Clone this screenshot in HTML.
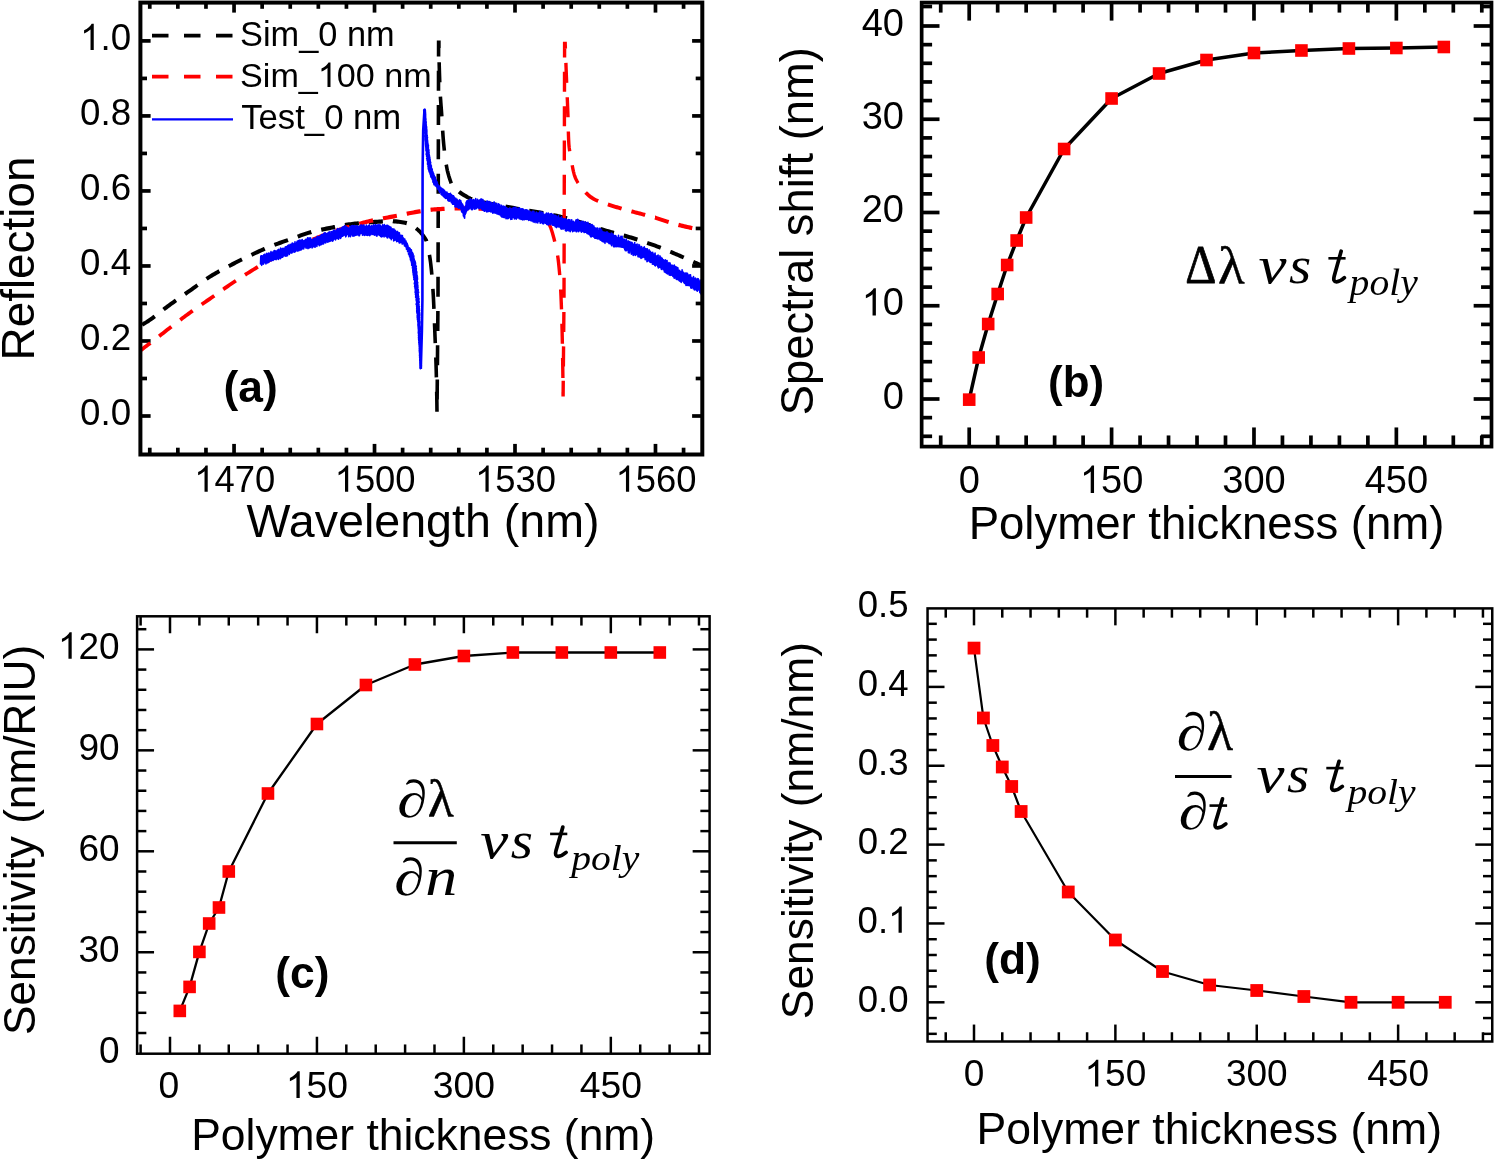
<!DOCTYPE html>
<html><head><meta charset="utf-8"><title>Figure</title>
<style>
html,body{margin:0;padding:0;background:#fff;}
body{width:1494px;height:1160px;overflow:hidden;font-family:"Liberation Sans",sans-serif;}
svg{display:block;filter:blur(0.5px);}
text{fill:#000;}
</style></head><body>
<svg width="1494" height="1160" viewBox="0 0 1494 1160">
<defs><clipPath id="clipA"><rect x="140.4" y="2.5" width="561.9" height="452"/></clipPath></defs>
<rect width="1494" height="1160" fill="#fff"/>
<line x1="234.05" y1="454.5" x2="234.05" y2="443.9" stroke="#000" stroke-width="3.7" />
<line x1="234.05" y1="2.6" x2="234.05" y2="12.6" stroke="#000" stroke-width="3.7" />
<line x1="374.52" y1="454.5" x2="374.52" y2="443.9" stroke="#000" stroke-width="3.7" />
<line x1="374.52" y1="2.6" x2="374.52" y2="12.6" stroke="#000" stroke-width="3.7" />
<line x1="515" y1="454.5" x2="515" y2="443.9" stroke="#000" stroke-width="3.7" />
<line x1="515" y1="2.6" x2="515" y2="12.6" stroke="#000" stroke-width="3.7" />
<line x1="655.48" y1="454.5" x2="655.48" y2="443.9" stroke="#000" stroke-width="3.7" />
<line x1="655.48" y1="2.6" x2="655.48" y2="12.6" stroke="#000" stroke-width="3.7" />
<line x1="149.77" y1="454.5" x2="149.77" y2="447.7" stroke="#000" stroke-width="3.7" />
<line x1="149.77" y1="2.6" x2="149.77" y2="8.8" stroke="#000" stroke-width="3.7" />
<line x1="177.86" y1="454.5" x2="177.86" y2="447.7" stroke="#000" stroke-width="3.7" />
<line x1="177.86" y1="2.6" x2="177.86" y2="8.8" stroke="#000" stroke-width="3.7" />
<line x1="205.96" y1="454.5" x2="205.96" y2="447.7" stroke="#000" stroke-width="3.7" />
<line x1="205.96" y1="2.6" x2="205.96" y2="8.8" stroke="#000" stroke-width="3.7" />
<line x1="262.14" y1="454.5" x2="262.14" y2="447.7" stroke="#000" stroke-width="3.7" />
<line x1="262.14" y1="2.6" x2="262.14" y2="8.8" stroke="#000" stroke-width="3.7" />
<line x1="290.24" y1="454.5" x2="290.24" y2="447.7" stroke="#000" stroke-width="3.7" />
<line x1="290.24" y1="2.6" x2="290.24" y2="8.8" stroke="#000" stroke-width="3.7" />
<line x1="318.34" y1="454.5" x2="318.34" y2="447.7" stroke="#000" stroke-width="3.7" />
<line x1="318.34" y1="2.6" x2="318.34" y2="8.8" stroke="#000" stroke-width="3.7" />
<line x1="346.43" y1="454.5" x2="346.43" y2="447.7" stroke="#000" stroke-width="3.7" />
<line x1="346.43" y1="2.6" x2="346.43" y2="8.8" stroke="#000" stroke-width="3.7" />
<line x1="402.62" y1="454.5" x2="402.62" y2="447.7" stroke="#000" stroke-width="3.7" />
<line x1="402.62" y1="2.6" x2="402.62" y2="8.8" stroke="#000" stroke-width="3.7" />
<line x1="430.72" y1="454.5" x2="430.72" y2="447.7" stroke="#000" stroke-width="3.7" />
<line x1="430.72" y1="2.6" x2="430.72" y2="8.8" stroke="#000" stroke-width="3.7" />
<line x1="458.81" y1="454.5" x2="458.81" y2="447.7" stroke="#000" stroke-width="3.7" />
<line x1="458.81" y1="2.6" x2="458.81" y2="8.8" stroke="#000" stroke-width="3.7" />
<line x1="486.9" y1="454.5" x2="486.9" y2="447.7" stroke="#000" stroke-width="3.7" />
<line x1="486.9" y1="2.6" x2="486.9" y2="8.8" stroke="#000" stroke-width="3.7" />
<line x1="543.1" y1="454.5" x2="543.1" y2="447.7" stroke="#000" stroke-width="3.7" />
<line x1="543.1" y1="2.6" x2="543.1" y2="8.8" stroke="#000" stroke-width="3.7" />
<line x1="571.19" y1="454.5" x2="571.19" y2="447.7" stroke="#000" stroke-width="3.7" />
<line x1="571.19" y1="2.6" x2="571.19" y2="8.8" stroke="#000" stroke-width="3.7" />
<line x1="599.28" y1="454.5" x2="599.28" y2="447.7" stroke="#000" stroke-width="3.7" />
<line x1="599.28" y1="2.6" x2="599.28" y2="8.8" stroke="#000" stroke-width="3.7" />
<line x1="627.38" y1="454.5" x2="627.38" y2="447.7" stroke="#000" stroke-width="3.7" />
<line x1="627.38" y1="2.6" x2="627.38" y2="8.8" stroke="#000" stroke-width="3.7" />
<line x1="683.57" y1="454.5" x2="683.57" y2="447.7" stroke="#000" stroke-width="3.7" />
<line x1="683.57" y1="2.6" x2="683.57" y2="8.8" stroke="#000" stroke-width="3.7" />
<line x1="140.4" y1="416" x2="150.6" y2="416" stroke="#000" stroke-width="3.7" />
<line x1="702.3" y1="416" x2="692.1" y2="416" stroke="#000" stroke-width="3.7" />
<line x1="140.4" y1="340.98" x2="150.6" y2="340.98" stroke="#000" stroke-width="3.7" />
<line x1="702.3" y1="340.98" x2="692.1" y2="340.98" stroke="#000" stroke-width="3.7" />
<line x1="140.4" y1="265.96" x2="150.6" y2="265.96" stroke="#000" stroke-width="3.7" />
<line x1="702.3" y1="265.96" x2="692.1" y2="265.96" stroke="#000" stroke-width="3.7" />
<line x1="140.4" y1="190.94" x2="150.6" y2="190.94" stroke="#000" stroke-width="3.7" />
<line x1="702.3" y1="190.94" x2="692.1" y2="190.94" stroke="#000" stroke-width="3.7" />
<line x1="140.4" y1="115.92" x2="150.6" y2="115.92" stroke="#000" stroke-width="3.7" />
<line x1="702.3" y1="115.92" x2="692.1" y2="115.92" stroke="#000" stroke-width="3.7" />
<line x1="140.4" y1="40.9" x2="150.6" y2="40.9" stroke="#000" stroke-width="3.7" />
<line x1="702.3" y1="40.9" x2="692.1" y2="40.9" stroke="#000" stroke-width="3.7" />
<line x1="140.4" y1="378.49" x2="147" y2="378.49" stroke="#000" stroke-width="3.7" />
<line x1="702.3" y1="378.49" x2="695.7" y2="378.49" stroke="#000" stroke-width="3.7" />
<line x1="140.4" y1="303.47" x2="147" y2="303.47" stroke="#000" stroke-width="3.7" />
<line x1="702.3" y1="303.47" x2="695.7" y2="303.47" stroke="#000" stroke-width="3.7" />
<line x1="140.4" y1="228.45" x2="147" y2="228.45" stroke="#000" stroke-width="3.7" />
<line x1="702.3" y1="228.45" x2="695.7" y2="228.45" stroke="#000" stroke-width="3.7" />
<line x1="140.4" y1="153.43" x2="147" y2="153.43" stroke="#000" stroke-width="3.7" />
<line x1="702.3" y1="153.43" x2="695.7" y2="153.43" stroke="#000" stroke-width="3.7" />
<line x1="140.4" y1="78.41" x2="147" y2="78.41" stroke="#000" stroke-width="3.7" />
<line x1="702.3" y1="78.41" x2="695.7" y2="78.41" stroke="#000" stroke-width="3.7" />
<g clip-path="url(#clipA)">
<path d="M429.43 254.95 L429.51 255.34 L429.77 256.85 L430.01 258.37 L430.23 259.88 L430.44 261.4 L430.62 262.91 L430.8 264.42 L430.97 265.94 L431.14 267.45 L431.29 268.97 L431.45 270.48 L431.59 271.99 L431.74 273.51 L431.84 274.66 M432.9 288.87 L432.98 290.16 L433.08 291.68 L433.16 293.19 L433.25 294.71 L433.33 296.22 L433.41 297.73 L433.49 299.25 L433.57 300.76 L433.64 302.28 L433.71 303.79 L433.78 305.3 L433.85 306.82 L433.91 308.33 L433.94 308.84 M434.5 323.12 L434.52 323.47 L434.57 324.99 L434.63 326.5 L434.69 328.01 L434.75 329.53 L434.81 331.04 L434.86 332.56 L434.92 334.07 L434.98 335.58 L435.04 337.1 L435.1 338.61 L435.16 340.13 L435.22 341.64 L435.28 343.11 M435.81 357.39 L435.84 358.29 L435.89 359.81 L435.94 361.32 L435.99 362.84 L436.04 364.35 L436.08 365.86 L436.13 367.38 L436.17 368.89 L436.21 370.41 L436.25 371.92 L436.29 373.44 L436.32 374.95 L436.36 376.46 L436.38 377.39 M436.68 391.68 L436.71 393.12 L436.74 394.63 L436.77 396.15 L436.79 397.66 L436.82 399.17 L436.84 400.69 L436.87 402.2 L436.89 403.72 L436.91 405.23 L436.93 406.74 L436.95 408.26 L436.97 409.77 L436.98 411.29 L436.99 411.7 M437.12 399.6 L437.29 379.59 M437.42 365.29 L437.6 345.27 M437.73 330.97 L437.9 310.95 M438.01 296.65 L438.05 276.63 M438.09 262.33 L438.13 242.31 M438.17 228.01 L438.21 207.99 M438.25 193.69 L438.29 173.67 M438.33 159.37 L438.37 139.35 M438.41 125.05 L438.45 105.03 M438.49 90.73 L438.53 70.71 M438.57 56.41 L438.6 42.4 L438.9 42.4 L438.9 43.92 L438.91 45.44 L438.91 46.97 L438.92 47.98 M439.15 62.27 L439.19 63.71 L439.23 65.24 L439.27 66.76 L439.31 68.28 L439.35 69.8 L439.4 71.32 L439.44 72.85 L439.49 74.37 L439.54 75.89 L439.59 77.41 L439.64 78.94 L439.7 80.46 L439.75 81.98 L439.76 82.27 M440.39 96.54 L440.43 97.2 L440.53 98.73 L440.64 100.25 L440.75 101.77 L440.86 103.29 L440.97 104.82 L441.09 106.34 L441.2 107.86 L441.32 109.38 L441.43 110.91 L441.54 112.43 L441.64 113.95 L441.74 115.47 L441.81 116.46 M442.67 130.71 L442.76 132.22 L442.87 133.74 L442.97 135.26 L443.09 136.79 L443.2 138.31 L443.33 139.83 L443.46 141.35 L443.59 142.87 L443.73 144.4 L443.88 145.92 L444.03 147.44 L444.19 148.96 L444.35 150.49 L444.36 150.58 M446.26 164.61 L446.44 165.71 L446.71 167.23 L446.99 168.75 L447.3 170.28 L447.65 171.8 L448.04 173.32 L448.46 174.84 L448.9 176.37 L449.38 177.89 L449.87 179.41 L450.38 180.93 L450.91 182.46 L451.2 183.28" fill="none" stroke="#000" stroke-width="3.6"/>
<path d="M416.07 228.31 L417.13 229.18 L418.64 230.5 L420.15 231.92 L421.66 233.66 L423.18 235.67 L424.69 237.88 L426.2 240.2 L426.47 241.3" fill="none" stroke="#000" stroke-width="3.8"/>
<path d="M142.07 324.68 L143.42 323.98 L144.94 323.11 L146.45 322.18 L147.96 321.2 L149.47 320.18 L150.99 319.12 L152.5 318.02 L154.01 316.9 L154.77 316.32 M163.56 309.5 L164.59 308.7 L166.11 307.54 L167.62 306.39 L169.13 305.27 L170.64 304.18 L172.16 303.1 L173.67 302.02 L175.18 300.95 L176.02 300.36 M184.99 294.05 L185.77 293.51 L187.28 292.45 L188.79 291.39 L190.3 290.33 L191.81 289.26 L193.33 288.18 L194.84 287.09 L196.35 286 L197.53 285.15 M206.51 278.84 L206.94 278.55 L208.45 277.57 L209.96 276.61 L211.47 275.68 L212.98 274.78 L214.5 273.9 L216.01 273.03 L217.52 272.18 L219.03 271.34 L219.42 271.13 M228.79 266.14 L229.62 265.71 L231.13 264.92 L232.64 264.13 L234.15 263.35 L235.67 262.58 L237.18 261.81 L238.69 261.05 L240.2 260.29 L241.72 259.54 L241.98 259.41 M251.46 254.85 L252.3 254.45 L253.81 253.74 L255.32 253.03 L256.84 252.32 L258.35 251.62 L259.86 250.92 L261.37 250.24 L262.89 249.56 L264.4 248.89 L264.78 248.72 M274.41 244.85 L274.98 244.63 L276.5 244.08 L278.01 243.54 L279.52 243.01 L281.03 242.49 L282.54 241.97 L284.06 241.45 L285.57 240.94 L287.08 240.42 L288.01 240.1 M297.7 236.59 L299.18 236.04 L300.69 235.48 L302.2 234.93 L303.71 234.39 L305.23 233.87 L306.74 233.37 L308.25 232.9 L309.76 232.46 L311.28 232.05 L311.33 232.03 M459.01 191.7 L459.58 192.15 L461.1 193.24 L462.62 194.24 L464.14 195.18 L465.65 196.08 L467.17 196.95 L468.69 197.76 L470.2 198.51 L471.72 199.18 L471.95 199.27 M576.81 221.02 L577.91 221.35 L579.43 221.81 L580.94 222.29 L582.46 222.79 L583.98 223.29 L585.49 223.81 L587.01 224.33 L588.53 224.86 L590.04 225.39 L590.45 225.53 M647.16 242.84 L647.69 243.02 L649.21 243.55 L650.72 244.09 L652.24 244.63 L653.76 245.17 L655.27 245.73 L656.79 246.29 L658.31 246.87 L659.82 247.45 L660.72 247.8 M670.33 251.74 L670.44 251.78 L671.96 252.43 L673.48 253.07 L674.99 253.72 L676.51 254.37 L678.03 255.03 L679.55 255.68 L681.06 256.33 L682.58 257 L683.74 257.51 M693.28 261.79 L694.72 262.45 L696.23 263.15 L697.75 263.86 L699.27 264.57 L700.78 265.28 L702.3 266" fill="none" stroke="#000" stroke-width="4"/>
<path d="M321.2 229.73 L321.86 229.59 L323.37 229.27 L324.88 228.97 L326.4 228.67 L327.91 228.37 L329.42 228.07 L330.93 227.77 L332.45 227.47 L333.96 227.17 L335.07 226.95 M344.98 225.09 L346.06 224.91 L347.57 224.67 L349.08 224.45 L350.59 224.24 L352.1 224.05 L353.62 223.86 L355.13 223.68 L356.64 223.51 L358.15 223.34 L358.92 223.26 M368.9 222.35 L370.25 222.25 L371.76 222.15 L373.27 222.05 L374.79 221.94 L376.3 221.84 L377.81 221.73 L379.32 221.64 L380.83 221.54 L382.35 221.46 L382.88 221.43 M392.88 221.23 L392.93 221.24 L394.44 221.31 L395.96 221.42 L397.47 221.57 L398.98 221.76 L400.49 221.97 L402.01 222.21 L403.52 222.48 L405.03 222.77 L406.54 223.08 L406.81 223.15 M481.75 202.1 L482.34 202.23 L483.86 202.55 L485.37 202.86 L486.89 203.15 L488.41 203.43 L489.92 203.7 L491.44 203.96 L492.96 204.23 L494.48 204.49 L495.63 204.69 M505.54 206.56 L506.61 206.76 L508.13 207.05 L509.64 207.33 L511.16 207.61 L512.68 207.88 L514.2 208.16 L515.71 208.44 L517.23 208.71 L518.75 208.98 L519.43 209.11 M529.36 210.84 L529.37 210.84 L530.88 211.1 L532.4 211.35 L533.92 211.6 L535.43 211.85 L536.95 212.1 L538.47 212.36 L539.98 212.62 L541.5 212.88 L543.02 213.15 L543.26 213.19 M553.17 215.11 L553.64 215.21 L555.15 215.53 L556.67 215.87 L558.19 216.21 L559.7 216.56 L561.22 216.92 L562.74 217.29 L564.26 217.66 L565.77 218.04 L566.98 218.35 M600.17 228.88 L600.66 229.05 L602.18 229.54 L603.7 230.02 L605.21 230.48 L606.73 230.93 L608.25 231.37 L609.76 231.8 L611.28 232.21 L612.8 232.62 L613.88 232.91 M623.71 235.51 L624.93 235.84 L626.45 236.27 L627.97 236.71 L629.49 237.16 L631 237.61 L632.52 238.08 L634.04 238.55 L635.55 239.02 L637.07 239.5 L637.42 239.61" fill="none" stroke="#000" stroke-width="4.2"/>
<path d="M548.68 223.8 L549.37 224.9 L550.88 228.15 L552.39 232.72 L553.9 238.2 L554.28 239.72 L554.65 241.24 L554.75 241.69 M557.6 255.39 L557.76 256.47 L557.98 257.99 L558.18 259.51 L558.35 261.03 L558.53 262.55 L558.69 264.08 L558.85 265.6 L559 267.12 L559.15 268.64 L559.29 270.16 L559.43 271.69 L559.56 273.21 L559.69 274.73 L559.73 275.17 M560.66 289.41 L560.69 289.95 L560.77 291.47 L560.84 293 L560.91 294.52 L560.98 296.04 L561.05 297.56 L561.11 299.08 L561.17 300.61 L561.23 302.13 L561.29 303.65 L561.35 305.17 L561.4 306.7 L561.46 308.22 L561.5 309.39 M561.92 323.68 L561.95 324.96 L561.99 326.48 L562.03 328 L562.07 329.53 L562.1 331.05 L562.14 332.57 L562.17 334.09 L562.21 335.62 L562.24 337.14 L562.27 338.66 L562.3 340.18 L562.33 341.7 L562.36 343.23 L562.37 343.69 M562.62 357.98 L562.63 358.45 L562.65 359.97 L562.67 361.49 L562.7 363.01 L562.72 364.54 L562.74 366.06 L562.76 367.58 L562.78 369.1 L562.81 370.62 L562.83 372.15 L562.85 373.67 L562.87 375.19 L562.89 376.71 L562.9 378 M563.06 392.3 L563.07 393.46 L563.09 394.98 L563.1 396.5 L563.25 380.69 M563.38 366.39 L563.57 346.37 M563.7 332.07 L563.89 312.05 M564.01 297.75 L564.05 277.73 M564.09 263.43 L564.13 243.41 M564.17 229.11 L564.21 209.09 M564.25 194.79 L564.29 174.77 M564.33 160.47 L564.37 140.45 M564.41 126.15 L564.45 106.13 M564.49 91.83 L564.53 71.81 M564.57 57.51 L564.6 43.5 L565.2 43.5 L565.25 45.03 L565.31 46.56 L565.36 48.08 L565.38 48.64 M565.9 62.92 L565.92 63.37 L565.97 64.89 L566.03 66.42 L566.09 67.95 L566.14 69.48 L566.2 71.01 L566.26 72.53 L566.32 74.06 L566.37 75.59 L566.43 77.12 L566.49 78.65 L566.55 80.17 L566.61 81.7 L566.65 82.91 M567.24 97.19 L567.29 98.51 L567.36 100.04 L567.42 101.57 L567.48 103.1 L567.54 104.62 L567.6 106.15 L567.66 107.68 L567.72 109.21 L567.78 110.74 L567.83 112.27 L567.89 113.79 L567.94 115.32 L567.99 116.85 L568 117.18 M568.35 131.47 L568.37 132.13 L568.42 133.66 L568.46 135.19 L568.52 136.72 L568.57 138.24 L568.64 139.77 L568.71 141.3 L568.79 142.83 L568.88 144.36 L569.02 145.88 L569.18 147.41 L569.38 148.94 L569.6 150.47 L569.74 151.35 M572.2 165.22 L572.29 165.75 L572.57 167.28 L572.87 168.81 L573.19 170.33 L573.54 171.86 L573.93 173.39 L574.36 174.92 L574.85 176.45 L575.45 177.97 L576.15 179.5 L576.95 181.03 L577.84 182.56 L578.16 183.05" fill="none" stroke="#ff0000" stroke-width="3.4"/>
<path d="M140.4 350.5 L141.91 349.37 L143.42 348.24 L144.93 347.1 L146.44 345.96 L147.95 344.82 L149.45 343.67 L150.35 342.97 M159.15 336.16 L160.02 335.48 L161.53 334.3 L163.04 333.13 L164.55 331.96 L166.06 330.79 L167.56 329.62 L169.07 328.46 L170.58 327.31 L171.46 326.64 M180.28 319.89 L181.15 319.23 L182.66 318.09 L184.16 316.96 L185.67 315.83 L187.18 314.71 L188.69 313.6 L190.2 312.5 L191.71 311.41 L192.71 310.7 M201.7 304.44 L202.27 304.04 L203.78 303.01 L205.29 301.97 L206.8 300.93 L208.31 299.88 L209.82 298.84 L211.33 297.78 L212.84 296.72 L214.3 295.69 M223.25 289.33 L223.4 289.23 L224.91 288.17 L226.42 287.12 L227.93 286.08 L229.44 285.05 L230.95 284.03 L232.46 283.02 L233.97 282.02 L235.47 281.02 L235.9 280.74 M245.01 274.84 L246.04 274.19 L247.55 273.24 L249.06 272.3 L250.57 271.36 L252.08 270.43 L253.58 269.5 L255.09 268.57 L256.6 267.65 L257.86 266.89 M585.61 192.51 L586.35 193.23 L587.88 194.65 L589.4 195.96 L590.93 197.16 L592.45 198.23 L593.98 199.14 L595.51 199.91 L597.03 200.62 L598.18 201.1" fill="none" stroke="#ff0000" stroke-width="3.8"/>
<path d="M267.11 261.45 L267.17 261.42 L268.68 260.57 L270.18 259.73 L271.69 258.9 L273.2 258.09 L274.71 257.28 L276.22 256.48 L277.73 255.69 L279.24 254.91 L280.21 254.41 M289.66 249.74 L289.8 249.68 L291.31 248.97 L292.82 248.26 L294.33 247.57 L295.84 246.89 L297.35 246.21 L298.86 245.55 L300.37 244.89 L301.88 244.23 L303.02 243.74 M312.61 239.7 L313.95 239.14 L315.46 238.51 L316.97 237.89 L318.48 237.26 L319.99 236.64 L321.49 236.03 L323 235.43 L324.51 234.84 L326.02 234.25 L326.08 234.23 M335.79 230.81 L336.59 230.55 L338.1 230.06 L339.6 229.58 L341.11 229.11 L342.62 228.65 L344.13 228.19 L345.64 227.74 L347.15 227.29 L348.66 226.85 L349.48 226.61 M526.45 212.78 L526.74 212.83 L528.24 213.14 L529.75 213.45 L531.26 213.78 L532.77 214.15 L534.28 214.57 L535.79 215.04 L537.3 215.57 L538.81 216.17 L540.15 216.77 M607.89 204.47 L609.24 204.91 L610.76 205.4 L612.29 205.88 L613.81 206.35 L615.34 206.81 L616.86 207.25 L618.39 207.69 L619.92 208.13 L621.44 208.55 L621.59 208.6 M631.41 211.31 L632.12 211.5 L633.65 211.91 L635.17 212.32 L636.7 212.72 L638.22 213.12 L639.75 213.52 L641.27 213.91 L642.8 214.31 L644.33 214.7 L645.18 214.93 M655 217.62 L655.01 217.62 L656.53 218.08 L658.06 218.56 L659.58 219.05 L661.11 219.54 L662.63 220.04 L664.16 220.55 L665.68 221.05 L667.21 221.55 L668.66 222.02" fill="none" stroke="#ff0000" stroke-width="4"/>
<path d="M359.28 223.81 L360.73 223.4 L362.24 222.99 L363.75 222.59 L365.26 222.2 L366.77 221.81 L368.28 221.44 L369.79 221.08 L371.3 220.73 L372.81 220.4 L373.07 220.34 M382.97 218.36 L383.37 218.29 L384.88 218.01 L386.39 217.73 L387.9 217.45 L389.41 217.17 L390.91 216.89 L392.42 216.61 L393.93 216.32 L395.44 216.03 L396.85 215.76 M406.75 213.76 L407.51 213.61 L409.02 213.31 L410.53 213.02 L412.04 212.73 L413.55 212.45 L415.06 212.18 L416.57 211.92 L418.08 211.68 L419.59 211.44 L420.65 211.27 M430.59 209.81 L431.66 209.68 L433.17 209.52 L434.68 209.39 L436.19 209.29 L437.7 209.2 L439.21 209.11 L440.72 209.03 L442.22 208.94 L443.73 208.87 L444.57 208.82 M454.57 208.46 L455.81 208.44 L457.32 208.42 L458.83 208.4 L460.33 208.4 L461.84 208.4 L463.35 208.41 L464.86 208.42 L466.37 208.43 L467.88 208.45 L468.57 208.46 M478.57 208.67 L479.95 208.71 L481.46 208.76 L482.97 208.81 L484.48 208.86 L485.99 208.91 L487.5 208.97 L489.01 209.02 L490.52 209.08 L492.03 209.15 L492.56 209.17 M502.56 209.64 L502.59 209.64 L504.1 209.75 L505.61 209.86 L507.12 209.99 L508.63 210.13 L510.14 210.29 L511.64 210.46 L513.15 210.64 L514.66 210.84 L516.17 211.04 L516.52 211.1 M678.46 224.87 L679.42 225.11 L680.94 225.49 L682.47 225.86 L683.99 226.23 L685.52 226.59 L687.04 226.94 L688.57 227.29 L690.09 227.63 L691.62 227.95 L692.27 228.09 M702.18 229.98 L702.3 230" fill="none" stroke="#ff0000" stroke-width="4.2"/>
<path d="M260.5 264.2 L260.8 256.11 L261.1 264.48 L261.4 255.69 L261.7 265.33 L262 255.89 L262.3 263.92 L262.6 257.03 L262.9 263.45 L263.2 255.81 L263.5 264.13 L263.8 254.72 L264.1 263.05 L264.4 256.23 L264.7 262.59 L265 254.08 L265.3 262.42 L265.6 255.09 L265.9 263.92 L266.2 255.85 L266.5 262.93 L266.8 253.21 L267.1 261.45 L267.4 253.85 L267.7 263.06 L268 254.81 L268.3 262 L268.6 253.08 L268.9 262.32 L269.2 253.68 L269.5 261.1 L269.8 253.2 L270.1 260.86 L270.4 252.76 L270.7 260.24 L271 251.53 L271.3 261.07 L271.6 252.72 L271.9 260.58 L272.2 252.43 L272.5 259.83 L272.8 252.02 L273.1 260.37 L273.4 252.09 L273.7 259.71 L274 250.9 L274.3 259.39 L274.6 250.62 L274.9 258.9 L275.2 250.89 L275.5 259.31 L275.8 251.45 L276.1 259.72 L276.4 251.17 L276.7 258.88 L277 252.02 L277.3 257.72 L277.6 249.95 L277.9 258.75 L278.2 249.76 L278.5 259.35 L278.8 249.4 L279.1 256.98 L279.4 250.35 L279.7 258.05 L280 250.04 L280.3 258.61 L280.6 248.02 L280.9 257.93 L281.2 248.77 L281.5 257.49 L281.8 249.15 L282.1 256.12 L282.4 248.5 L282.7 257.27 L283 248.38 L283.3 255.47 L283.6 248.54 L283.9 255.87 L284.2 248.22 L284.5 255.19 L284.8 247.93 L285.1 255.81 L285.4 246.75 L285.7 256.28 L286 247.31 L286.3 255.36 L286.6 246.44 L286.9 255.85 L287.2 246.2 L287.5 255.66 L287.8 245.56 L288.1 253.54 L288.4 245.14 L288.7 253.45 L289 245.56 L289.3 254.47 L289.6 244.99 L289.9 252.57 L290.2 244.41 L290.5 251.89 L290.8 244.83 L291.1 253.32 L291.4 244.46 L291.7 252.47 L292 243.28 L292.3 252.65 L292.6 243.11 L292.9 250.9 L293.2 243.92 L293.5 251.83 L293.8 244.67 L294.1 251.89 L294.4 243.26 L294.7 252.26 L295 241.8 L295.3 250.19 L295.6 243.38 L295.9 251.34 L296.2 243.35 L296.5 249.86 L296.8 242.07 L297.1 249.53 L297.4 241.09 L297.7 251.09 L298 242.76 L298.3 249.71 L298.6 240.66 L298.9 250.61 L299.2 241.78 L299.5 248.63 L299.8 239.97 L300.1 250.1 L300.4 241.44 L300.7 248.96 L301 240.22 L301.3 249.84 L301.6 241.29 L301.9 249.16 L302.2 239.52 L302.5 248.59 L302.8 241.02 L303.1 247.43 L303.4 240.73 L303.7 248.94 L304 240.8 L304.3 247.08 L304.6 240.2 L304.9 246.95 L305.2 240.35 L305.5 246.72 L305.8 239.42 L306.1 248.11 L306.4 239.4 L306.7 246.54 L307 239.64 L307.3 247.72 L307.6 237.92 L307.9 248.6 L308.2 239.58 L308.5 246.01 L308.8 237.98 L309.1 248.06 L309.4 238.68 L309.7 247.69 L310 237.69 L310.3 247.38 L310.6 238 L310.9 245.9 L311.2 239.3 L311.5 246.62 L311.8 239.65 L312.1 248 L312.4 239.72 L312.7 247.32 L313 239.57 L313.3 246.46 L313.6 238.56 L313.9 245.85 L314.2 238.09 L314.5 246.92 L314.8 238.91 L315.1 247.28 L315.4 238.82 L315.7 245.39 L316 237.85 L316.3 245.69 L316.6 237.82 L316.9 246.48 L317.2 236.24 L317.5 244.27 L317.8 237.14 L318.1 244.42 L318.4 236.87 L318.7 244.39 L319 236.54 L319.3 245.63 L319.6 236.54 L319.9 244.93 L320.2 235.75 L320.5 244.84 L320.8 236.8 L321.1 244.7 L321.4 234.61 L321.7 244.4 L322 235.81 L322.3 243.99 L322.6 234.47 L322.9 243.58 L323.2 235.65 L323.5 243.99 L323.8 233.18 L324.1 242.35 L324.4 233.78 L324.7 241.22 L325 232.66 L325.3 242.95 L325.6 233.27 L325.9 242.62 L326.2 234.01 L326.5 241.05 L326.8 233.51 L327.1 241.53 L327.4 233.85 L327.7 242.18 L328 232.87 L328.3 241.14 L328.6 233.71 L328.9 241.72 L329.2 231.81 L329.5 241.18 L329.8 232.96 L330.1 241.21 L330.4 232.95 L330.7 241.07 L331 231.58 L331.3 239.71 L331.6 231.78 L331.9 240.53 L332.2 232.26 L332.5 241.15 L332.8 231.64 L333.1 240.67 L333.4 230.24 L333.7 238.58 L334 230.62 L334.3 239.04 L334.6 230.14 L334.9 239.25 L335.2 230.8 L335.5 239.97 L335.8 231.51 L336.1 238.71 L336.4 230.48 L336.7 237.38 L337 229.22 L337.3 238.43 L337.6 228.48 L337.9 238.25 L338.2 229.79 L338.5 239.18 L338.8 230.44 L339.1 236.63 L339.4 228.46 L339.7 237.17 L340 229.4 L340.3 238.46 L340.6 229.1 L340.9 238.02 L341.2 228.15 L341.5 236.66 L341.8 229.44 L342.1 236.13 L342.4 226.96 L342.7 236.29 L343 228.71 L343.3 235.8 L343.6 226.44 L343.9 235.08 L344.2 226.38 L344.5 234.74 L344.8 225.63 L345.1 235.54 L345.4 228.17 L345.7 236.83 L346 227.14 L346.3 235.91 L346.6 226.76 L346.9 234.39 L347.2 227.88 L347.5 234.53 L347.8 227.84 L348.1 234.47 L348.4 228.11 L348.7 236.71 L349 228.19 L349.3 235.75 L349.6 228.16 L349.9 235.15 L350.2 226.43 L350.5 236.78 L350.8 227.31 L351.1 234.28 L351.4 225.68 L351.7 234.24 L352 226.94 L352.3 235.38 L352.6 225.64 L352.9 236.27 L353.2 226.74 L353.5 235.25 L353.8 225.81 L354.1 236.06 L354.4 225.46 L354.7 235.63 L355 227.31 L355.3 234.62 L355.6 226.65 L355.9 235.24 L356.2 225.69 L356.5 234.71 L356.8 226.31 L357.1 235.08 L357.4 225.92 L357.7 234.48 L358 226.45 L358.3 233.93 L358.6 226.83 L358.9 235.78 L359.2 226.78 L359.5 235.71 L359.8 225.86 L360.1 233.46 L360.4 225.32 L360.7 233.61 L361 225.02 L361.3 232.87 L361.6 225.11 L361.9 233.19 L362.2 225.76 L362.5 235.21 L362.8 225.65 L363.1 234.41 L363.4 225.02 L363.7 233.36 L364 225.06 L364.3 235.47 L364.6 226.6 L364.9 234.8 L365.2 226.6 L365.5 235.05 L365.8 226.82 L366.1 234.46 L366.4 225.13 L366.7 235.31 L367 226.94 L367.3 235.36 L367.6 226.47 L367.9 235.17 L368.2 225.78 L368.5 233.65 L368.8 225.24 L369.1 235.25 L369.4 225.16 L369.7 235.8 L370 226.4 L370.3 233.82 L370.6 226.74 L370.9 234.75 L371.2 226 L371.5 233.87 L371.8 225.65 L372.1 233.96 L372.4 226.88 L372.7 234.43 L373 226.22 L373.3 234.52 L373.6 224.7 L373.9 233.86 L374.2 225.43 L374.5 235.19 L374.8 226.56 L375.1 234.8 L375.4 224.63 L375.7 234.32 L376 225.13 L376.3 235.73 L376.6 226.19 L376.9 236.19 L377.2 225.14 L377.5 234.68 L377.8 225.04 L378.1 234.8 L378.4 225.17 L378.7 234.42 L379 224.64 L379.3 235.29 L379.6 226.64 L379.9 235.16 L380.2 224.95 L380.5 236.41 L380.8 226.17 L381.1 235.07 L381.4 226.24 L381.7 236.93 L382 226.82 L382.3 236.4 L382.6 224.84 L382.9 234.94 L383.2 226.55 L383.5 235.98 L383.8 225.23 L384.1 236.91 L384.4 224.62 L384.7 235.04 L385 226.8 L385.3 235.67 L385.6 225.85 L385.9 236.49 L386.2 227.23 L386.5 236.45 L386.8 225.28 L387.1 237.61 L387.4 225.27 L387.7 237.89 L388 225.57 L388.3 235.59 L388.6 225.94 L388.9 236.77 L389.2 227.88 L389.5 237.53 L389.8 226.58 L390.1 238.31 L390.4 228.47 L390.7 238.08 L391 227.21 L391.3 239.66 L391.6 229.67 L391.9 238.06 L392.2 229.07 L392.5 238.04 L392.8 228.76 L393.1 238.53 L393.4 229.42 L393.7 240.95 L394 229.06 L394.3 239.01 L394.6 231.62 L394.9 240.13 L395.2 230.41 L395.5 239.81 L395.8 231.78 L396.1 240.23 L396.4 232.41 L396.7 241.72 L397 231.29 L397.3 240.6 L397.6 231.64 L397.9 241.15 L398.2 232.54 L398.5 241.28 L398.8 233.18 L399.1 242.84 L399.4 232.83 L399.7 243.02 L400 235.05 L400.3 242.79 L400.6 235.38 L400.9 242.11 L401.2 235.29 L401.5 242.23 L401.8 236.19 L402.1 244.02 L402.4 235.62 L402.7 244.07 L403 237.51 L403.3 243.41 L403.6 238.39 L403.9 243.9 L404.2 239.34 L404.5 246.07 L404.8 238.97 L405.1 245.48 L405.4 240.73 L405.7 247.05 L406 241.15 L406.3 246.88 L406.6 242.51 L406.9 247.59 L407.2 243.61 L407.5 249.19 L407.8 245.14 L408.1 250.49 L408.4 247.12 L408.7 251.35 L409 247.65 L409.3 251.94 L409.6 249.41 L409.9 253.11 L410.2 250.42" fill="none" stroke="#0000ff" stroke-width="1.6" stroke-linejoin="round"/>
<path d="M409.73 248.5 L406.7 248.91 L410.01 249.31 L407.85 249.72 L411.08 250.12 L407.76 250.54 L411.19 250.95 L407.88 251.36 L411.33 251.77 L408.88 252.19 L411.95 252.61 L409.33 253.02 L412.45 253.44 L408.78 253.87 L412.88 254.29 L409.17 254.71 L412.41 255.13 L409.96 255.55 L413.57 255.98 L409.84 256.4 L413.53 256.83 L410.34 257.25 L413.47 257.68 L411.02 258.11 L413.53 258.54 L410.65 258.97 L414 259.4 L410.81 259.84 L413.94 260.27 L411.25 260.71 L414.65 261.15 L412.2 261.59 L414.96 262.03 L411.73 262.47 L415.15 262.92 L411.91 263.36 L415.28 263.8 L412.01 264.24 L415.13 264.69 L411.99 265.13 L415.37 265.58 L412.81 266.02 L415.99 266.46 L412.95 266.91 L415.59 267.35 L412.7 267.8 L416.05 268.24 L413.2 268.69 L415.46 269.13 L413.1 269.58 L416.09 270.02 L413.09 270.47 L415.9 270.92 L413.14 271.36 L416.47 271.81 L413.23 272.26 L416.56 272.7 L413.52 273.15 L416.47 273.6 L413.48 274.04 L416.28 274.49 L413.77 274.94 L416.87 275.38 L413.78 275.83 L416.38 276.28 L414.3 276.72 L417.16 277.17 L414 277.62 L416.58 278.07 L414.36 278.51 L417.22 278.96 L414.14 279.41 L417.05 279.86 L414.88 280.31 L416.88 280.75 L415.04 281.2 L416.91 281.65 L415.1 282.1 L417.43 282.55 L414.67 282.99 L417.29 283.44 L414.62 283.89 L417.12 284.34 L415.27 284.79 L417.57 285.23 L415.09 285.68 L417.25 286.13 L414.88 286.58 L417.71 287.03 L415.21 287.48 L417.59 287.92 L415.3 288.37 L417.42 288.82 L415.62 289.27 L417.92 289.72 L415.48 290.17 L417.9 290.61 L415.98 291.06 L417.81 291.51 L415.36 291.96 L418.34 292.41 L415.57 292.86 L417.75 293.3 L416.21 293.75 L417.92 294.2 L415.73 294.65 L417.98 295.1 L416.25 295.55 L418.08 296 L415.97 296.45 L418.33 296.89 L415.95 297.34 L418.06 297.79 L416.6 298.24 L418.66 298.69 L416.63 299.14 L418.62 299.59 L416.36 300.04 L418.33 300.48 L416.67 300.93 L418.74 301.38 L416.9 301.83 L418.93 302.28 L416.96 302.73 L418.45 303.18 L416.63 303.63 L418.47 304.08 L416.47 304.53 L418.73 304.97 L417.14 305.42 L418.61 305.87 L416.91 306.32 L419.11 306.77 L417.15 307.22 L418.85 307.67 L417.02 308.12 L419.05 308.57 L416.99 309.02 L418.9 309.47 L417.28 309.91 L419.28 310.36 L417.02 310.81 L419.04 311.26 L417.03 311.71 L418.94 312.16 L417.2 312.61 L419.42 313.06 L417.42 313.51 L419.33 313.96 L417.77 314.41 L419.46 314.86 L417.47 315.31 L419.35 315.75 L417.6 316.2 L419.15 316.65 L417.51 317.1 L419.4 317.55 L417.7 318 L419.24 318.45 L417.75 318.9 L419.32 319.35 L417.74 319.8 L419.25 320.25 L418.14 320.7 L419.39 321.15 L418.06 321.6 L419.77 322.04 L418.32 322.49 L419.64 322.94 L418.36 323.39 L419.59 323.84 L418.28 324.29 L419.52 324.74 L418.25 325.19 L419.65 325.64 L418.41 326.09 L419.81 326.54 L418.47 326.99 L420.02 327.44 L418.52 327.89 L420.06 328.34 L418.62 328.79 L420.07 329.24 L418.71 329.68 L419.67 330.13 L418.75 330.58 L420.02 331.03 L418.74 331.48 L419.86 331.93 L418.6 332.38 L419.79 332.83 L418.71 333.28 L419.98 333.73 L418.93 334.18 L420.23 334.63 L418.89 335.08 L420 335.53 L418.81 335.98 L420.26 336.43 L419.05 336.88 L420 337.33 L418.81 337.78 L420.15 338.23 L419.03 338.67 L420.19 339.12 L418.97 339.57 L420.21 340.02 L419.05 340.47 L420.28 340.92 L419.34 341.37 L420.3 341.82 L419.11 342.27 L420.34 342.72 L419.33 343.17 L420.19 343.62 L419.27 344.07 L420.34 344.52 L419.45 344.97 L420.37 345.42 L419.46 345.87 L420.38 346.32 L419.55 346.77 L420.45 347.22 L419.68 347.67 L420.4 348.12 L419.6 348.57 L420.63 349.02 L419.65 349.46 L420.56 349.91 L419.56 350.36 L420.66 350.81 L419.66 351.26 L420.63 351.71 L419.75 352.16 L420.54 352.61 L419.92 353.06 L420.53 353.51 L419.97 353.96 L420.7 354.41 L419.88 354.86 L420.58 355.31 L419.87 355.76 L420.71 356.21 L419.99 356.66 L420.64 357.11 L419.96 357.56 L420.67 358.01 L420.16 358.46 L420.79 358.91 L420.14 359.36 L420.82 359.81 L420.09 360.26 L420.74 360.71 L420.19 361.16 L420.85 361.61 L420.21 362.06 L420.92 362.51 L420.25 362.95 L420.97 363.4 L420.3 363.85 L420.86 364.3 L420.39 364.75 L421 365.2 L420.39 365.65 L421.04 366.1 L420.49 366.55 L420.91 367 L420.49 367.45 L420.97 367.9 L420.54 368.35" fill="none" stroke="#0000ff" stroke-width="2.2" stroke-linejoin="round" stroke-linecap="round"/>
<path d="M420.8 368.6 L421.9 330.9 L422.4 300 L422.6 170 L423.2 130 L424.5 109.7" fill="none" stroke="#0000ff" stroke-width="2.6" stroke-linejoin="round"/>
<path d="M424.71 109.7 L424.24 110.15 L424.88 110.6 L424.32 111.05 L424.86 111.5 L424.34 111.95 L425.04 112.4 L424.23 112.85 L425.03 113.3 L424.31 113.75 L425.17 114.2 L424.41 114.65 L425.16 115.09 L424.48 115.54 L425.2 115.99 L424.49 116.44 L425.1 116.89 L424.34 117.34 L425.23 117.79 L424.35 118.24 L425.4 118.69 L424.47 119.14 L425.46 119.59 L424.42 120.04 L425.39 120.49 L424.45 120.94 L425.48 121.39 L424.77 121.83 L425.74 122.28 L424.81 122.73 L425.66 123.18 L424.62 123.63 L425.67 124.08 L424.7 124.53 L425.86 124.98 L424.75 125.43 L425.76 125.88 L424.79 126.33 L426.07 126.77 L425.04 127.22 L426.19 127.67 L424.79 128.12 L426.03 128.57 L424.84 129.02 L426.34 129.47 L425.21 129.92 L426.34 130.37 L424.93 130.82 L426.45 131.26 L425.31 131.71 L426.36 132.16 L425.19 132.61 L426.42 133.06 L425.31 133.51 L426.38 133.96 L425.53 134.41 L426.55 134.85 L425.41 135.3 L426.75 135.75 L425.23 136.2 L426.61 136.65 L425.56 137.1 L427.04 137.55 L425.4 138 L426.78 138.44 L425.53 138.89 L426.85 139.34 L425.46 139.79 L427.02 140.24 L425.69 140.69 L427.21 141.13 L425.8 141.58 L427.18 142.03 L425.94 142.48 L427.3 142.93 L425.89 143.37 L427.47 143.82 L425.97 144.27 L427.63 144.72 L426 145.17 L427.96 145.61 L426.15 146.06 L427.83 146.51 L426.19 146.96 L427.94 147.41 L426.38 147.85 L427.88 148.3 L426.39 148.75 L427.99 149.2 L426.4 149.64 L428.45 150.09 L426.41 150.54 L428.51 150.98 L426.83 151.43 L428.19 151.88 L426.93 152.33 L428.62 152.77 L427.07 153.22 L428.45 153.67 L426.64 154.11 L428.72 154.56 L427.3 155.01 L428.93 155.45 L427 155.9 L429.02 156.35 L427.46 156.79 L429.18 157.24 L427.6 157.69 L429.44 158.13 L427.15 158.58 L429.13 159.03 L427.49 159.47 L429.78 159.92 L427.56 160.36 L429.47 160.81 L428.06 161.25 L429.82 161.7 L428.2 162.14 L430.23 162.59 L428.01 163.03 L430.03 163.48 L427.97 163.92 L430.13 164.36 L428.3 164.81 L430.5 165.25 L428.74 165.69 L430.9 166.13 L428.48 166.57 L430.65 167.01 L428.85 167.45 L430.95 167.89 L428.68 168.33 L431.45 168.76 L428.9 169.19 L431.78 169.63 L429.24 170.06 L431.71 170.49 L429.46 170.92 L432.01 171.35 L429.73 171.78 L432.6 172.2 L430.25 172.63 L432.48 173.05 L430.47 173.48 L433.15 173.9 L430.69 174.32 L433.02 174.75 L431.33 175.17 L433.74 175.59 L431.14 176.02 L433.79 176.44 L431.4 176.86 L434.72 177.28 L432.36 177.7 L434.85 178.12 L432.42 178.54 L434.7 178.96 L432.89 179.38 L435.23 179.8 L433.39 180.21 L435.87 180.63 L433.36 181.05 L435.94 181.46 L433.34 181.87 L436.84 182.29 L434.05 182.7 L436.65 183.11 L434.28 183.52 L437.11 183.93 L434.38 184.34 L437.4 184.74 L435.43 185.15" fill="none" stroke="#0000ff" stroke-width="2.6" stroke-linejoin="round" stroke-linecap="round"/>
<path d="M434 181.28 L434.3 179.8 L434.6 182.45 L434.9 180.17 L435.2 184.17 L435.5 181.38 L435.8 185.76 L436.1 182.31 L436.4 186.67 L436.7 183.49 L437 187.18 L437.3 183.87 L437.6 188.97 L437.9 185.07 L438.2 189.48 L438.5 185.8 L438.8 190.28 L439.1 186.11 L439.4 192.02 L439.7 186.13 L440 192.37 L440.3 188.03 L440.6 192.6 L440.9 187.6 L441.2 194.46 L441.5 189.17 L441.8 195.03 L442.1 188.65 L442.4 194.56 L442.7 188.99 L443 195.92 L443.3 189.39 L443.6 196.51 L443.9 190.1 L444.2 197.28 L444.5 190.3 L444.8 196.9 L445.1 191.51 L445.4 198.47 L445.7 192.06 L446 197.84 L446.3 192.51 L446.6 198.13 L446.9 191.94 L447.2 198.64 L447.5 193.08 L447.8 200.15 L448.1 193.61 L448.4 201.02 L448.7 193.84 L449 200.73 L449.3 193.73 L449.6 201.23 L449.9 194.03 L450.2 200.45 L450.5 193.22 L450.8 200.88 L451.1 194.93 L451.4 202.64 L451.7 194.7 L452 202.62 L452.3 196.95 L452.6 204.31 L452.9 195.76 L453.2 204.17 L453.5 195.88 L453.8 204.25 L454.1 196.78 L454.4 204.23 L454.7 197.71 L455 206.73 L455.3 198.79 L455.6 206.96 L455.9 198.41 L456.2 206.09 L456.5 199.89 L456.8 206.97 L457.1 199.3 L457.4 207.23 L457.7 200.35 L458 206.43 L458.3 200.88 L458.6 208.27 L458.9 201.01 L459.2 207.83 L459.5 199.86 L459.8 207.68 L460.1 200.34 L460.4 208.55 L460.7 200.43 L461 209.23 L461.3 202.32 L461.6 211.69 L461.9 203.69 L462.2 212.45 L462.5 204.07 L462.8 213.06 L463.1 205.42 L463.4 216 L463.7 208.13 L464 216.97 L464.3 210.16 L464.6 218.19 L464.9 206.87 L465.2 214.49 L465.5 205.73 L465.8 213.16 L466.1 202.41 L466.4 211.76 L466.7 201.13 L467 210.51 L467.3 200.82 L467.6 208.37 L467.9 200.58 L468.2 209.61 L468.5 200.56 L468.8 208.16 L469.1 200.12 L469.4 208.71 L469.7 200.73 L470 208.92 L470.3 198.88 L470.6 207.72 L470.9 199.94 L471.2 207.52 L471.5 199.65 L471.8 209.82 L472.1 199.96 L472.4 209.58 L472.7 200.31 L473 207.71 L473.3 199.63 L473.6 207.71 L473.9 200.46 L474.2 209.05 L474.5 199.98 L474.8 209.24 L475.1 200.46 L475.4 208.14 L475.7 198.62 L476 208.79 L476.3 200.74 L476.6 208.53 L476.9 200.7 L477.2 207.28 L477.5 199.4 L477.8 207.52 L478.1 200.09 L478.4 207.69 L478.7 200.94 L479 208.8 L479.3 200.81 L479.6 208.43 L479.9 199.87 L480.2 208.02 L480.5 200.64 L480.8 207.97 L481.1 198.77 L481.4 208.82 L481.7 200.47 L482 209.82 L482.3 199.63 L482.6 210.04 L482.9 199.58 L483.2 210.13 L483.5 202.02 L483.8 210.63 L484.1 201.22 L484.4 211.16 L484.7 202.2 L485 211.13 L485.3 202.9 L485.6 210.55 L485.9 202.2 L486.2 210.23 L486.5 201.34 L486.8 212.02 L487.1 202.62 L487.4 211.64 L487.7 201.12 L488 211.46 L488.3 202.47 L488.6 211.4 L488.9 202.14 L489.2 211.3 L489.5 201.63 L489.8 210.79 L490.1 201.97 L490.4 211.84 L490.7 202.37 L491 211.44 L491.3 202.43 L491.6 211.31 L491.9 203.2 L492.2 212.42 L492.5 204.45 L492.8 213.23 L493.1 203.01 L493.4 211.15 L493.7 202.18 L494 212.68 L494.3 201.99 L494.6 212.76 L494.9 203.32 L495.2 213.31 L495.5 203.94 L495.8 212.68 L496.1 204.29 L496.4 212.92 L496.7 203.39 L497 214.01 L497.3 205.03 L497.6 213.97 L497.9 205.55 L498.2 213.45 L498.5 203.73 L498.8 214.56 L499.1 205 L499.4 214.73 L499.7 204.49 L500 214.48 L500.3 206.36 L500.6 215.15 L500.9 206.24 L501.2 216.39 L501.5 205.38 L501.8 216.86 L502.1 206.18 L502.4 216.06 L502.7 207.65 L503 217.27 L503.3 205.97 L503.6 216.27 L503.9 206.38 L504.2 217.66 L504.5 208.26 L504.8 216.98 L505.1 206.54 L505.4 216.58 L505.7 209.27 L506 218.78 L506.3 207.63 L506.6 216.98 L506.9 208.63 L507.2 218.56 L507.5 208.35 L507.8 218.61 L508.1 208.82 L508.4 218.48 L508.7 208.68 L509 217.07 L509.3 209.65 L509.6 217.48 L509.9 207.69 L510.2 217.9 L510.5 208.62 L510.8 219.4 L511.1 210.17 L511.4 217.69 L511.7 209.58 L512 219.32 L512.3 208.26 L512.6 217.14 L512.9 210.04 L513.2 217.23 L513.5 207.58 L513.8 217.81 L514.1 207.82 L514.4 218.98 L514.7 207.3 L515 218.21 L515.3 209.48 L515.6 218.2 L515.9 207.62 L516.2 219.23 L516.5 209.15 L516.8 217.96 L517.1 208.24 L517.4 217.89 L517.7 209.37 L518 217.35 L518.3 208.89 L518.6 217.61 L518.9 208.15 L519.2 218.83 L519.5 207.72 L519.8 218.73 L520.1 208.79 L520.4 217.3 L520.7 209.76 L521 219.43 L521.3 208.78 L521.6 217.59 L521.9 209.25 L522.2 219.46 L522.5 208.69 L522.8 219.94 L523.1 208.93 L523.4 219.4 L523.7 209.5 L524 218.49 L524.3 210.02 L524.6 219.63 L524.9 210.99 L525.2 218.87 L525.5 209.71 L525.8 219.11 L526.1 211.09 L526.4 219.56 L526.7 209.81 L527 219.22 L527.3 211.92 L527.6 219.4 L527.9 210.23 L528.2 219.08 L528.5 211.04 L528.8 220.52 L529.1 211.49 L529.4 219.97 L529.7 210.96 L530 219.6 L530.3 211.9 L530.6 220.52 L530.9 212.17 L531.2 220.9 L531.5 212.18 L531.8 219.9 L532.1 212.92 L532.4 220.82 L532.7 211.22 L533 221.68 L533.3 211.64 L533.6 219.72 L533.9 211.23 L534.2 222.34 L534.5 213.01 L534.8 220.96 L535.1 213.23 L535.4 221.41 L535.7 213.01 L536 222.76 L536.3 212.12 L536.6 221.87 L536.9 212.81 L537.2 221.39 L537.5 213.61 L537.8 222.86 L538.1 213.09 L538.4 221.29 L538.7 213.08 L539 221.29 L539.3 213.39 L539.6 221.53 L539.9 211.25 L540.2 223.26 L540.5 213.39 L540.8 223.02 L541.1 213.82 L541.4 222.39 L541.7 212.09 L542 221.78 L542.3 214.05 L542.6 223.4 L542.9 212.66 L543.2 223.92 L543.5 214 L543.8 221.44 L544.1 214.36 L544.4 222.25 L544.7 214.77 L545 223.52 L545.3 214.97 L545.6 223.22 L545.9 213.87 L546.2 222.25 L546.5 213.08 L546.8 224.5 L547.1 213.92 L547.4 223.38 L547.7 214.24 L548 224.77 L548.3 213.05 L548.6 225.03 L548.9 214.4 L549.2 223.31 L549.5 215.9 L549.8 223.38 L550.1 213.73 L550.4 224.8 L550.7 214.97 L551 223.46 L551.3 213.67 L551.6 223.04 L551.9 214.53 L552.2 224.9 L552.5 214.18 L552.8 225.11 L553.1 214.61 L553.4 224.95 L553.7 215.49 L554 225.52 L554.3 216.52 L554.6 224.57 L554.9 215.13 L555.2 226.67 L555.5 215.8 L555.8 224.85 L556.1 215.72 L556.4 227.59 L556.7 216.85 L557 225.99 L557.3 217.14 L557.6 226.76 L557.9 217.68 L558.2 225.23 L558.5 215.5 L558.8 226.91 L559.1 217.54 L559.4 226.91 L559.7 219.08 L560 226.28 L560.3 219.27 L560.6 228.28 L560.9 217.64 L561.2 229.27 L561.5 216.92 L561.8 226.89 L562.1 219.46 L562.4 228.5 L562.7 218.76 L563 229.32 L563.3 218.57 L563.6 228.15 L563.9 219.24 L564.2 228.51 L564.5 219.25 L564.8 228.59 L565.1 218.72 L565.4 230.59 L565.7 219.05 L566 230.95 L566.3 219.81 L566.6 230.95 L566.9 219.52 L567.2 229.86 L567.5 221.73 L567.8 230.14 L568.1 220.24 L568.4 230.78 L568.7 219.59 L569 230.8 L569.3 221.92 L569.6 229.17 L569.9 219.73 L570.2 231.61 L570.5 221.31 L570.8 229.65 L571.1 222.34 L571.4 229.78 L571.7 219.75 L572 230.53 L572.3 221.19 L572.6 231.77 L572.9 221.79 L573.2 230.89 L573.5 221.22 L573.8 230.89 L574.1 222.48 L574.4 230.99 L574.7 222.6 L575 230.79 L575.3 221.8 L575.6 230.32 L575.9 219.98 L576.2 231.65 L576.5 219.73 L576.8 231.82 L577.1 221.33 L577.4 229.57 L577.7 219.39 L578 230.59 L578.3 220.48 L578.6 231.73 L578.9 221.42 L579.2 230.92 L579.5 221.46 L579.8 230.26 L580.1 222.51 L580.4 230.29 L580.7 222.03 L581 231.7 L581.3 221.39 L581.6 232.12 L581.9 222.5 L582.2 230.81 L582.5 221.73 L582.8 231.23 L583.1 221.21 L583.4 231.2 L583.7 222.53 L584 232.49 L584.3 222.78 L584.6 232.53 L584.9 222.41 L585.2 231 L585.5 221.85 L585.8 232.31 L586.1 223.49 L586.4 232.39 L586.7 223.06 L587 233.5 L587.3 224.44 L587.6 233.73 L587.9 222.42 L588.2 232.67 L588.5 223.69 L588.8 234.21 L589.1 225.14 L589.4 234.67 L589.7 225.53 L590 235.28 L590.3 224.32 L590.6 236.61 L590.9 224.43 L591.2 236.87 L591.5 225.99 L591.8 236.48 L592.1 224.59 L592.4 234.64 L592.7 225.41 L593 236.34 L593.3 227.41 L593.6 236.87 L593.9 226.06 L594.2 237 L594.5 228.27 L594.8 238.23 L595.1 227.68 L595.4 238.18 L595.7 228.7 L596 237.96 L596.3 229.39 L596.6 238.4 L596.9 227.95 L597.2 238.2 L597.5 228.16 L597.8 238.98 L598.1 230.56 L598.4 238.05 L598.7 230.77 L599 238.99 L599.3 228.2 L599.6 238.7 L599.9 228.64 L600.2 240.08 L600.5 228.81 L600.8 239.85 L601.1 230.36 L601.4 240.48 L601.7 229.97 L602 241.28 L602.3 231.85 L602.6 239.55 L602.9 231.87 L603.2 241.87 L603.5 232.78 L603.8 241.61 L604.1 231.94 L604.4 242.08 L604.7 232.93 L605 243.34 L605.3 232.53 L605.6 241.43 L605.9 232.28 L606.2 241.53 L606.5 232.14 L606.8 241.91 L607.1 231.9 L607.4 241.76 L607.7 233.67 L608 242.24 L608.3 232.95 L608.6 243.03 L608.9 233.63 L609.2 243.7 L609.5 233.56 L609.8 243.11 L610.1 234.31 L610.4 242.9 L610.7 234.96 L611 244.45 L611.3 232.96 L611.6 245.77 L611.9 233.36 L612.2 243.56 L612.5 234.08 L612.8 243.88 L613.1 234.34 L613.4 246.28 L613.7 235.73 L614 246.9 L614.3 235.63 L614.6 245.66 L614.9 235.97 L615.2 246.59 L615.5 235.46 L615.8 245.76 L616.1 236.1 L616.4 246.72 L616.7 237.32 L617 246.56 L617.3 237.59 L617.6 245.8 L617.9 237.89 L618.2 246.69 L618.5 235.28 L618.8 246.01 L619.1 237.77 L619.4 246.82 L619.7 238.33 L620 246.71 L620.3 237.24 L620.6 246.19 L620.9 236.27 L621.2 247.25 L621.5 237.01 L621.8 246.26 L622.1 236.35 L622.4 247.21 L622.7 238.56 L623 247.2 L623.3 239.52 L623.6 247.67 L623.9 239.22 L624.2 247.96 L624.5 239.32 L624.8 249.74 L625.1 240.57 L625.4 250.62 L625.7 241.28 L626 250.31 L626.3 239.15 L626.6 250.66 L626.9 241.84 L627.2 249.32 L627.5 241.83 L627.8 249.68 L628.1 240.69 L628.4 252.66 L628.7 241.64 L629 252.37 L629.3 242.01 L629.6 252.9 L629.9 241.61 L630.2 250.84 L630.5 242.65 L630.8 251.09 L631.1 243.58 L631.4 254.22 L631.7 242.25 L632 252.26 L632.3 242.88 L632.6 253.66 L632.9 244.95 L633.2 255.37 L633.5 244.27 L633.8 254.12 L634.1 244.62 L634.4 254.33 L634.7 242.57 L635 255.16 L635.3 245.29 L635.6 255.41 L635.9 244.77 L636.2 253.97 L636.5 244.51 L636.8 254.11 L637.1 243.93 L637.4 254.75 L637.7 246.63 L638 256.77 L638.3 246.49 L638.6 256.5 L638.9 244.64 L639.2 256.89 L639.5 245.06 L639.8 256.19 L640.1 246.98 L640.4 257.22 L640.7 247.72 L641 258.46 L641.3 246.59 L641.6 258.01 L641.9 247.11 L642.2 257.79 L642.5 248.58 L642.8 257.04 L643.1 248.67 L643.4 256.97 L643.7 247.6 L644 257.45 L644.3 246.78 L644.6 257.37 L644.9 248.8 L645.2 259.8 L645.5 248.61 L645.8 259.4 L646.1 248.83 L646.4 259.51 L646.7 250.67 L647 261.8 L647.3 248.92 L647.6 261.22 L647.9 250.84 L648.2 260.82 L648.5 251.99 L648.8 259.94 L649.1 249.84 L649.4 261.21 L649.7 251.8 L650 262.31 L650.3 251.18 L650.6 262.47 L650.9 252.95 L651.2 262.18 L651.5 252.45 L651.8 261.79 L652.1 253.17 L652.4 264.25 L652.7 252.29 L653 263.78 L653.3 254.15 L653.6 264.34 L653.9 254.16 L654.2 263.02 L654.5 253.97 L654.8 265.37 L655.1 253.09 L655.4 266.05 L655.7 256.14 L656 265 L656.3 256.61 L656.6 264.56 L656.9 255.84 L657.2 265.29 L657.5 257.27 L657.8 266.65 L658.1 255.01 L658.4 267.88 L658.7 257.81 L659 266.49 L659.3 258.09 L659.6 267.34 L659.9 255.9 L660.2 266.97 L660.5 256.68 L660.8 267.98 L661.1 257.62 L661.4 269.55 L661.7 259.03 L662 268.85 L662.3 258.42 L662.6 268.66 L662.9 260.44 L663.2 269.72 L663.5 259.9 L663.8 269.46 L664.1 260.81 L664.4 271.95 L664.7 260.66 L665 270.6 L665.3 259.82 L665.6 272.49 L665.9 260.29 L666.2 273.09 L666.5 262.48 L666.8 272.05 L667.1 260.66 L667.4 273.93 L667.7 263.24 L668 273.66 L668.3 263.54 L668.6 273.22 L668.9 262.64 L669.2 275.1 L669.5 265.5 L669.8 274.26 L670.1 263.06 L670.4 275.34 L670.7 264.61 L671 274.79 L671.3 265.33 L671.6 275.14 L671.9 266.5 L672.2 275.38 L672.5 265.32 L672.8 276.34 L673.1 265.81 L673.4 276.2 L673.7 266.38 L674 278.01 L674.3 265.09 L674.6 278.19 L674.9 267.42 L675.2 278.04 L675.5 266.43 L675.8 277.33 L676.1 267.67 L676.4 279.41 L676.7 267.14 L677 279.27 L677.3 269.33 L677.6 277.58 L677.9 267.9 L678.2 279.9 L678.5 270.03 L678.8 278.4 L679.1 270.2 L679.4 281 L679.7 270.44 L680 281.14 L680.3 271.44 L680.6 281.58 L680.9 271.85 L681.2 282.56 L681.5 271.47 L681.8 279.88 L682.1 269.76 L682.4 281.05 L682.7 271.36 L683 280.9 L683.3 272.62 L683.6 282.28 L683.9 272.8 L684.2 283.09 L684.5 273.32 L684.8 283.46 L685.1 274.58 L685.4 283.89 L685.7 273.1 L686 285.49 L686.3 272.94 L686.6 283.1 L686.9 274.33 L687.2 285.51 L687.5 273.42 L687.8 283.59 L688.1 276.12 L688.4 285.57 L688.7 275.13 L689 284.9 L689.3 276.04 L689.6 285.8 L689.9 274.88 L690.2 285.98 L690.5 274.88 L690.8 288.01 L691.1 277.17 L691.4 288.21 L691.7 277.8 L692 287.11 L692.3 278.07 L692.6 286.95 L692.9 277.74 L693.2 288.66 L693.5 276.45 L693.8 287.77 L694.1 278.36 L694.4 290.05 L694.7 279.05 L695 288.8 L695.3 277.93 L695.6 289.64 L695.9 279.52 L696.2 289.08 L696.5 280.08 L696.8 290.75 L697.1 278.65 L697.4 291.21 L697.7 279.84 L698 289.14 L698.3 278.7 L698.6 289.93 L698.9 281.27 L699.2 290.05 L699.5 281.34 L699.8 292.59 L700.1 280.11 L700.4 292.8 L700.7 283.27 L701 294.07 L701.3 283.39 L701.6 292.27 L701.9 283.29 L702.2 294.27 L702.5 282.49 L702.8 294.19 L703.1 282.09 L703.4 292.94 L703.7 281.43" fill="none" stroke="#0000ff" stroke-width="1.6" stroke-linejoin="round"/>
</g>
<line x1="152" y1="35.6" x2="233" y2="35.6" stroke="#000" stroke-width="3.8" stroke-dasharray="16.5 15.5"/>
<line x1="152" y1="76.6" x2="233" y2="76.6" stroke="#ff0000" stroke-width="3.8" stroke-dasharray="16.5 15.5"/>
<line x1="152" y1="119.4" x2="233" y2="119.4" stroke="#0000ff" stroke-width="2.4" />
<text x="240.06" y="46" font-family='"Liberation Sans", sans-serif' font-size="34.33" text-anchor="start" font-weight="normal" font-style="normal" >Sim_0 nm</text>
<text x="240.06" y="87" font-family='"Liberation Sans", sans-serif' font-size="34.11" text-anchor="start" font-weight="normal" font-style="normal" >Sim_</text>
<path d="M330.49 87 L327.49 87 L327.49 67.9 Q326.41 68.93 324.65 69.96 Q322.9 70.99 321.5 71.51 L321.5 68.61 Q324.01 67.43 325.89 65.75 Q327.78 64.06 328.56 62.48 L330.49 62.48Z" fill="#000"/>
<text x="336.75" y="87" font-family='"Liberation Sans", sans-serif' font-size="34.11" text-anchor="start" font-weight="normal" font-style="normal" >00 nm</text>
<text x="241.22" y="129.3" font-family='"Liberation Sans", sans-serif' font-size="34.7" text-anchor="start" font-weight="normal" font-style="normal" >Test_0 nm</text>
<path d="M207.72 491.7 L204.52 491.7 L204.52 471.31 Q203.37 472.42 201.49 473.52 Q199.62 474.62 198.13 475.17 L198.13 472.08 Q200.81 470.82 202.82 469.02 Q204.83 467.23 205.66 465.54 L207.72 465.54Z" fill="#000"/>
<text x="214.41" y="491.7" font-family='"Liberation Sans", sans-serif' font-size="36.4" text-anchor="start" font-weight="normal" font-style="normal" >470</text>
<path d="M348.2 491.7 L345 491.7 L345 471.31 Q343.84 472.42 341.97 473.52 Q340.09 474.62 338.6 475.17 L338.6 472.08 Q341.28 470.82 343.29 469.02 Q345.3 467.23 346.14 465.54 L348.2 465.54Z" fill="#000"/>
<text x="354.88" y="491.7" font-family='"Liberation Sans", sans-serif' font-size="36.4" text-anchor="start" font-weight="normal" font-style="normal" >500</text>
<path d="M488.67 491.7 L485.47 491.7 L485.47 471.31 Q484.32 472.42 482.44 473.52 Q480.57 474.62 479.08 475.17 L479.08 472.08 Q481.76 470.82 483.77 469.02 Q485.78 467.23 486.61 465.54 L488.67 465.54Z" fill="#000"/>
<text x="495.36" y="491.7" font-family='"Liberation Sans", sans-serif' font-size="36.4" text-anchor="start" font-weight="normal" font-style="normal" >530</text>
<path d="M629.15 491.7 L625.95 491.7 L625.95 471.31 Q624.79 472.42 622.92 473.52 Q621.04 474.62 619.55 475.17 L619.55 472.08 Q622.23 470.82 624.24 469.02 Q626.25 467.23 627.09 465.54 L629.15 465.54Z" fill="#000"/>
<text x="635.83" y="491.7" font-family='"Liberation Sans", sans-serif' font-size="36.4" text-anchor="start" font-weight="normal" font-style="normal" >560</text>
<text x="131.1" y="425.2" font-family='"Liberation Sans", sans-serif' font-size="36.7" text-anchor="end" font-weight="normal" font-style="normal" >0.0</text>
<text x="131.1" y="350.18" font-family='"Liberation Sans", sans-serif' font-size="36.7" text-anchor="end" font-weight="normal" font-style="normal" >0.2</text>
<text x="131.1" y="275.16" font-family='"Liberation Sans", sans-serif' font-size="36.7" text-anchor="end" font-weight="normal" font-style="normal" >0.4</text>
<text x="131.1" y="200.14" font-family='"Liberation Sans", sans-serif' font-size="36.7" text-anchor="end" font-weight="normal" font-style="normal" >0.6</text>
<text x="131.1" y="125.12" font-family='"Liberation Sans", sans-serif' font-size="36.7" text-anchor="end" font-weight="normal" font-style="normal" >0.8</text>
<path d="M93.75 50.1 L90.53 50.1 L90.53 29.55 Q89.36 30.66 87.47 31.77 Q85.58 32.88 84.08 33.43 L84.08 30.32 Q86.78 29.04 88.81 27.23 Q90.83 25.42 91.68 23.72 L93.75 23.72Z" fill="#000"/>
<text x="100.49" y="50.1" font-family='"Liberation Sans", sans-serif' font-size="36.7" text-anchor="start" font-weight="normal" font-style="normal" >.0</text>
<text x="246.57" y="536.8" font-family='"Liberation Sans", sans-serif' font-size="46.59" text-anchor="start" font-weight="normal" font-style="normal" >Wavelength (nm)</text>
<text transform="translate(33.9 360.49) rotate(-90)" font-family='"Liberation Sans", sans-serif' font-size="45.88" font-weight="normal">Reflection</text>
<text x="223.58" y="401.9" font-family='"Liberation Sans", sans-serif' font-size="44.37" text-anchor="start" font-weight="bold" font-style="normal" >(a)</text>
<line x1="969.2" y1="446.6" x2="969.2" y2="427.45" stroke="#000" stroke-width="3.7" />
<line x1="969.2" y1="2.55" x2="969.2" y2="20.6" stroke="#000" stroke-width="3.7" />
<line x1="1111.59" y1="446.6" x2="1111.59" y2="427.45" stroke="#000" stroke-width="3.7" />
<line x1="1111.59" y1="2.55" x2="1111.59" y2="20.6" stroke="#000" stroke-width="3.7" />
<line x1="1253.98" y1="446.6" x2="1253.98" y2="427.45" stroke="#000" stroke-width="3.7" />
<line x1="1253.98" y1="2.55" x2="1253.98" y2="20.6" stroke="#000" stroke-width="3.7" />
<line x1="1396.36" y1="446.6" x2="1396.36" y2="427.45" stroke="#000" stroke-width="3.7" />
<line x1="1396.36" y1="2.55" x2="1396.36" y2="20.6" stroke="#000" stroke-width="3.7" />
<line x1="940.72" y1="446.6" x2="940.72" y2="435.45" stroke="#000" stroke-width="3.7" />
<line x1="940.72" y1="2.55" x2="940.72" y2="12.6" stroke="#000" stroke-width="3.7" />
<line x1="997.68" y1="446.6" x2="997.68" y2="435.45" stroke="#000" stroke-width="3.7" />
<line x1="997.68" y1="2.55" x2="997.68" y2="12.6" stroke="#000" stroke-width="3.7" />
<line x1="1026.15" y1="446.6" x2="1026.15" y2="435.45" stroke="#000" stroke-width="3.7" />
<line x1="1026.15" y1="2.55" x2="1026.15" y2="12.6" stroke="#000" stroke-width="3.7" />
<line x1="1054.63" y1="446.6" x2="1054.63" y2="435.45" stroke="#000" stroke-width="3.7" />
<line x1="1054.63" y1="2.55" x2="1054.63" y2="12.6" stroke="#000" stroke-width="3.7" />
<line x1="1083.11" y1="446.6" x2="1083.11" y2="435.45" stroke="#000" stroke-width="3.7" />
<line x1="1083.11" y1="2.55" x2="1083.11" y2="12.6" stroke="#000" stroke-width="3.7" />
<line x1="1140.07" y1="446.6" x2="1140.07" y2="435.45" stroke="#000" stroke-width="3.7" />
<line x1="1140.07" y1="2.55" x2="1140.07" y2="12.6" stroke="#000" stroke-width="3.7" />
<line x1="1168.54" y1="446.6" x2="1168.54" y2="435.45" stroke="#000" stroke-width="3.7" />
<line x1="1168.54" y1="2.55" x2="1168.54" y2="12.6" stroke="#000" stroke-width="3.7" />
<line x1="1197.02" y1="446.6" x2="1197.02" y2="435.45" stroke="#000" stroke-width="3.7" />
<line x1="1197.02" y1="2.55" x2="1197.02" y2="12.6" stroke="#000" stroke-width="3.7" />
<line x1="1225.5" y1="446.6" x2="1225.5" y2="435.45" stroke="#000" stroke-width="3.7" />
<line x1="1225.5" y1="2.55" x2="1225.5" y2="12.6" stroke="#000" stroke-width="3.7" />
<line x1="1282.45" y1="446.6" x2="1282.45" y2="435.45" stroke="#000" stroke-width="3.7" />
<line x1="1282.45" y1="2.55" x2="1282.45" y2="12.6" stroke="#000" stroke-width="3.7" />
<line x1="1310.93" y1="446.6" x2="1310.93" y2="435.45" stroke="#000" stroke-width="3.7" />
<line x1="1310.93" y1="2.55" x2="1310.93" y2="12.6" stroke="#000" stroke-width="3.7" />
<line x1="1339.41" y1="446.6" x2="1339.41" y2="435.45" stroke="#000" stroke-width="3.7" />
<line x1="1339.41" y1="2.55" x2="1339.41" y2="12.6" stroke="#000" stroke-width="3.7" />
<line x1="1367.88" y1="446.6" x2="1367.88" y2="435.45" stroke="#000" stroke-width="3.7" />
<line x1="1367.88" y1="2.55" x2="1367.88" y2="12.6" stroke="#000" stroke-width="3.7" />
<line x1="1424.84" y1="446.6" x2="1424.84" y2="435.45" stroke="#000" stroke-width="3.7" />
<line x1="1424.84" y1="2.55" x2="1424.84" y2="12.6" stroke="#000" stroke-width="3.7" />
<line x1="1453.32" y1="446.6" x2="1453.32" y2="435.45" stroke="#000" stroke-width="3.7" />
<line x1="1453.32" y1="2.55" x2="1453.32" y2="12.6" stroke="#000" stroke-width="3.7" />
<line x1="1481.8" y1="446.6" x2="1481.8" y2="435.45" stroke="#000" stroke-width="3.7" />
<line x1="1481.8" y1="2.55" x2="1481.8" y2="12.6" stroke="#000" stroke-width="3.7" />
<line x1="921.65" y1="399" x2="939.5" y2="399" stroke="#000" stroke-width="3.7" />
<line x1="1491.5" y1="399" x2="1473.65" y2="399" stroke="#000" stroke-width="3.7" />
<line x1="921.65" y1="305.75" x2="939.5" y2="305.75" stroke="#000" stroke-width="3.7" />
<line x1="1491.5" y1="305.75" x2="1473.65" y2="305.75" stroke="#000" stroke-width="3.7" />
<line x1="921.65" y1="212.5" x2="939.5" y2="212.5" stroke="#000" stroke-width="3.7" />
<line x1="1491.5" y1="212.5" x2="1473.65" y2="212.5" stroke="#000" stroke-width="3.7" />
<line x1="921.65" y1="119.25" x2="939.5" y2="119.25" stroke="#000" stroke-width="3.7" />
<line x1="1491.5" y1="119.25" x2="1473.65" y2="119.25" stroke="#000" stroke-width="3.7" />
<line x1="921.65" y1="26" x2="939.5" y2="26" stroke="#000" stroke-width="3.7" />
<line x1="1491.5" y1="26" x2="1473.65" y2="26" stroke="#000" stroke-width="3.7" />
<line x1="921.65" y1="436.3" x2="932.1" y2="436.3" stroke="#000" stroke-width="3.7" />
<line x1="1491.5" y1="436.3" x2="1481.05" y2="436.3" stroke="#000" stroke-width="3.7" />
<line x1="921.65" y1="417.65" x2="932.1" y2="417.65" stroke="#000" stroke-width="3.7" />
<line x1="1491.5" y1="417.65" x2="1481.05" y2="417.65" stroke="#000" stroke-width="3.7" />
<line x1="921.65" y1="380.35" x2="932.1" y2="380.35" stroke="#000" stroke-width="3.7" />
<line x1="1491.5" y1="380.35" x2="1481.05" y2="380.35" stroke="#000" stroke-width="3.7" />
<line x1="921.65" y1="361.7" x2="932.1" y2="361.7" stroke="#000" stroke-width="3.7" />
<line x1="1491.5" y1="361.7" x2="1481.05" y2="361.7" stroke="#000" stroke-width="3.7" />
<line x1="921.65" y1="343.05" x2="932.1" y2="343.05" stroke="#000" stroke-width="3.7" />
<line x1="1491.5" y1="343.05" x2="1481.05" y2="343.05" stroke="#000" stroke-width="3.7" />
<line x1="921.65" y1="324.4" x2="932.1" y2="324.4" stroke="#000" stroke-width="3.7" />
<line x1="1491.5" y1="324.4" x2="1481.05" y2="324.4" stroke="#000" stroke-width="3.7" />
<line x1="921.65" y1="287.1" x2="932.1" y2="287.1" stroke="#000" stroke-width="3.7" />
<line x1="1491.5" y1="287.1" x2="1481.05" y2="287.1" stroke="#000" stroke-width="3.7" />
<line x1="921.65" y1="268.45" x2="932.1" y2="268.45" stroke="#000" stroke-width="3.7" />
<line x1="1491.5" y1="268.45" x2="1481.05" y2="268.45" stroke="#000" stroke-width="3.7" />
<line x1="921.65" y1="249.8" x2="932.1" y2="249.8" stroke="#000" stroke-width="3.7" />
<line x1="1491.5" y1="249.8" x2="1481.05" y2="249.8" stroke="#000" stroke-width="3.7" />
<line x1="921.65" y1="231.15" x2="932.1" y2="231.15" stroke="#000" stroke-width="3.7" />
<line x1="1491.5" y1="231.15" x2="1481.05" y2="231.15" stroke="#000" stroke-width="3.7" />
<line x1="921.65" y1="193.85" x2="932.1" y2="193.85" stroke="#000" stroke-width="3.7" />
<line x1="1491.5" y1="193.85" x2="1481.05" y2="193.85" stroke="#000" stroke-width="3.7" />
<line x1="921.65" y1="175.2" x2="932.1" y2="175.2" stroke="#000" stroke-width="3.7" />
<line x1="1491.5" y1="175.2" x2="1481.05" y2="175.2" stroke="#000" stroke-width="3.7" />
<line x1="921.65" y1="156.55" x2="932.1" y2="156.55" stroke="#000" stroke-width="3.7" />
<line x1="1491.5" y1="156.55" x2="1481.05" y2="156.55" stroke="#000" stroke-width="3.7" />
<line x1="921.65" y1="137.9" x2="932.1" y2="137.9" stroke="#000" stroke-width="3.7" />
<line x1="1491.5" y1="137.9" x2="1481.05" y2="137.9" stroke="#000" stroke-width="3.7" />
<line x1="921.65" y1="100.6" x2="932.1" y2="100.6" stroke="#000" stroke-width="3.7" />
<line x1="1491.5" y1="100.6" x2="1481.05" y2="100.6" stroke="#000" stroke-width="3.7" />
<line x1="921.65" y1="81.95" x2="932.1" y2="81.95" stroke="#000" stroke-width="3.7" />
<line x1="1491.5" y1="81.95" x2="1481.05" y2="81.95" stroke="#000" stroke-width="3.7" />
<line x1="921.65" y1="63.3" x2="932.1" y2="63.3" stroke="#000" stroke-width="3.7" />
<line x1="1491.5" y1="63.3" x2="1481.05" y2="63.3" stroke="#000" stroke-width="3.7" />
<line x1="921.65" y1="44.65" x2="932.1" y2="44.65" stroke="#000" stroke-width="3.7" />
<line x1="1491.5" y1="44.65" x2="1481.05" y2="44.65" stroke="#000" stroke-width="3.7" />
<line x1="921.65" y1="6.5" x2="932.1" y2="6.5" stroke="#000" stroke-width="3.7" />
<line x1="1491.5" y1="6.5" x2="1481.05" y2="6.5" stroke="#000" stroke-width="3.7" />
<path d="M969.2 399.65 L978.69 357.5 L988.19 324 L997.68 294 L1007.17 265 L1016.66 240.5 L1026.15 217.5 L1064.12 149 L1111.59 98.5 L1159.05 73.5 L1206.51 60 L1253.98 53 L1301.44 50.5 L1348.9 48.5 L1396.36 48 L1443.83 47" fill="none" stroke="#000" stroke-width="3.5" stroke-linejoin="round"/>
<rect x="962.9" y="393.35" width="12.6" height="12.6" fill="#ff0000"/>
<rect x="972.39" y="351.2" width="12.6" height="12.6" fill="#ff0000"/>
<rect x="981.89" y="317.7" width="12.6" height="12.6" fill="#ff0000"/>
<rect x="991.38" y="287.7" width="12.6" height="12.6" fill="#ff0000"/>
<rect x="1000.87" y="258.7" width="12.6" height="12.6" fill="#ff0000"/>
<rect x="1010.36" y="234.2" width="12.6" height="12.6" fill="#ff0000"/>
<rect x="1019.86" y="211.2" width="12.6" height="12.6" fill="#ff0000"/>
<rect x="1057.83" y="142.7" width="12.6" height="12.6" fill="#ff0000"/>
<rect x="1105.29" y="92.2" width="12.6" height="12.6" fill="#ff0000"/>
<rect x="1152.75" y="67.2" width="12.6" height="12.6" fill="#ff0000"/>
<rect x="1200.21" y="53.7" width="12.6" height="12.6" fill="#ff0000"/>
<rect x="1247.68" y="46.7" width="12.6" height="12.6" fill="#ff0000"/>
<rect x="1295.14" y="44.2" width="12.6" height="12.6" fill="#ff0000"/>
<rect x="1342.6" y="42.2" width="12.6" height="12.6" fill="#ff0000"/>
<rect x="1390.06" y="41.7" width="12.6" height="12.6" fill="#ff0000"/>
<rect x="1437.53" y="40.7" width="12.6" height="12.6" fill="#ff0000"/>
<text x="969.2" y="492.9" font-family='"Liberation Sans", sans-serif' font-size="38" text-anchor="middle" font-weight="normal" font-style="normal" >0</text>
<path d="M1094.04 492.9 L1090.7 492.9 L1090.7 471.62 Q1089.5 472.77 1087.54 473.92 Q1085.58 475.07 1084.02 475.64 L1084.02 472.42 Q1086.83 471.1 1088.92 469.22 Q1091.02 467.35 1091.89 465.59 L1094.04 465.59Z" fill="#000"/>
<text x="1101.02" y="492.9" font-family='"Liberation Sans", sans-serif' font-size="38" text-anchor="start" font-weight="normal" font-style="normal" >50</text>
<text x="1253.98" y="492.9" font-family='"Liberation Sans", sans-serif' font-size="38" text-anchor="middle" font-weight="normal" font-style="normal" >300</text>
<text x="1396.36" y="492.9" font-family='"Liberation Sans", sans-serif' font-size="38" text-anchor="middle" font-weight="normal" font-style="normal" >450</text>
<text x="904" y="408.7" font-family='"Liberation Sans", sans-serif' font-size="38" text-anchor="end" font-weight="normal" font-style="normal" >0</text>
<path d="M875.89 315.45 L872.55 315.45 L872.55 294.17 Q871.34 295.32 869.39 296.47 Q867.43 297.62 865.87 298.19 L865.87 294.97 Q868.67 293.65 870.77 291.77 Q872.86 289.9 873.74 288.14 L875.89 288.14Z" fill="#000"/>
<text x="882.87" y="315.45" font-family='"Liberation Sans", sans-serif' font-size="38" text-anchor="start" font-weight="normal" font-style="normal" >0</text>
<text x="904" y="222.2" font-family='"Liberation Sans", sans-serif' font-size="38" text-anchor="end" font-weight="normal" font-style="normal" >20</text>
<text x="904" y="128.95" font-family='"Liberation Sans", sans-serif' font-size="38" text-anchor="end" font-weight="normal" font-style="normal" >30</text>
<text x="904" y="35.7" font-family='"Liberation Sans", sans-serif' font-size="38" text-anchor="end" font-weight="normal" font-style="normal" >40</text>
<text x="968.64" y="539.3" font-family='"Liberation Sans", sans-serif' font-size="45.56" text-anchor="start" font-weight="normal" font-style="normal" >Polymer thickness (nm)</text>
<text transform="translate(812.8 415.14) rotate(-90)" font-family='"Liberation Sans", sans-serif' font-size="45.37" font-weight="normal">Spectral shift (nm)</text>
<text x="1048.1" y="397.2" font-family='"Liberation Sans", sans-serif' font-size="43.91" text-anchor="start" font-weight="bold" font-style="normal" >(b)</text>
<text transform="translate(1185.18 283.2) scale(0.9692 1.1000)" font-family='"Liberation Serif", serif' font-size="50" font-weight="normal" font-style="normal" stroke="#000" stroke-width="0.7" stroke-linejoin="round">Δ</text>
<text transform="translate(1218.03 283.2) scale(1.0989 1.0383)" font-family='"Liberation Serif", serif' font-size="50" font-weight="normal" font-style="normal" stroke="#000" stroke-width="0.4" stroke-linejoin="round">λ</text>
<text transform="translate(1258.59 283.3) scale(1.2621 1.0696)" font-family='"Liberation Serif", serif' font-size="50" font-weight="normal" font-style="italic">v</text>
<text transform="translate(1289.09 283.3) scale(1.1396 1.0553)" font-family='"Liberation Serif", serif' font-size="50" font-weight="normal" font-style="italic">s</text>
<path d="M1341.13 251.19 L1334.25 276.02 Q1332.7 281.81 1336.48 281.81 Q1340.1 281.64 1344.4 277.67" fill="none" stroke="#000" stroke-width="3.7" stroke-linecap="round" stroke-linejoin="round"/>
<path d="M1328.4 258.31 L1345.6 258.31" fill="none" stroke="#000" stroke-width="2.59" stroke-linecap="butt"/>
<text transform="translate(1349.58 295) scale(0.7921 0.7424)" font-family='"Liberation Serif", serif' font-size="50" font-weight="normal" font-style="italic">poly</text>
<line x1="170" y1="1053.7" x2="170" y2="1036.75" stroke="#000" stroke-width="2.5" />
<line x1="170" y1="616.3" x2="170" y2="633.25" stroke="#000" stroke-width="2.5" />
<line x1="316.94" y1="1053.7" x2="316.94" y2="1036.75" stroke="#000" stroke-width="2.5" />
<line x1="316.94" y1="616.3" x2="316.94" y2="633.25" stroke="#000" stroke-width="2.5" />
<line x1="463.88" y1="1053.7" x2="463.88" y2="1036.75" stroke="#000" stroke-width="2.5" />
<line x1="463.88" y1="616.3" x2="463.88" y2="633.25" stroke="#000" stroke-width="2.5" />
<line x1="610.82" y1="1053.7" x2="610.82" y2="1036.75" stroke="#000" stroke-width="2.5" />
<line x1="610.82" y1="616.3" x2="610.82" y2="633.25" stroke="#000" stroke-width="2.5" />
<line x1="140.61" y1="1053.7" x2="140.61" y2="1044.45" stroke="#000" stroke-width="2.5" />
<line x1="140.61" y1="616.3" x2="140.61" y2="625.55" stroke="#000" stroke-width="2.5" />
<line x1="199.39" y1="1053.7" x2="199.39" y2="1044.45" stroke="#000" stroke-width="2.5" />
<line x1="199.39" y1="616.3" x2="199.39" y2="625.55" stroke="#000" stroke-width="2.5" />
<line x1="228.78" y1="1053.7" x2="228.78" y2="1044.45" stroke="#000" stroke-width="2.5" />
<line x1="228.78" y1="616.3" x2="228.78" y2="625.55" stroke="#000" stroke-width="2.5" />
<line x1="258.16" y1="1053.7" x2="258.16" y2="1044.45" stroke="#000" stroke-width="2.5" />
<line x1="258.16" y1="616.3" x2="258.16" y2="625.55" stroke="#000" stroke-width="2.5" />
<line x1="287.55" y1="1053.7" x2="287.55" y2="1044.45" stroke="#000" stroke-width="2.5" />
<line x1="287.55" y1="616.3" x2="287.55" y2="625.55" stroke="#000" stroke-width="2.5" />
<line x1="346.33" y1="1053.7" x2="346.33" y2="1044.45" stroke="#000" stroke-width="2.5" />
<line x1="346.33" y1="616.3" x2="346.33" y2="625.55" stroke="#000" stroke-width="2.5" />
<line x1="375.72" y1="1053.7" x2="375.72" y2="1044.45" stroke="#000" stroke-width="2.5" />
<line x1="375.72" y1="616.3" x2="375.72" y2="625.55" stroke="#000" stroke-width="2.5" />
<line x1="405.1" y1="1053.7" x2="405.1" y2="1044.45" stroke="#000" stroke-width="2.5" />
<line x1="405.1" y1="616.3" x2="405.1" y2="625.55" stroke="#000" stroke-width="2.5" />
<line x1="434.49" y1="1053.7" x2="434.49" y2="1044.45" stroke="#000" stroke-width="2.5" />
<line x1="434.49" y1="616.3" x2="434.49" y2="625.55" stroke="#000" stroke-width="2.5" />
<line x1="493.27" y1="1053.7" x2="493.27" y2="1044.45" stroke="#000" stroke-width="2.5" />
<line x1="493.27" y1="616.3" x2="493.27" y2="625.55" stroke="#000" stroke-width="2.5" />
<line x1="522.66" y1="1053.7" x2="522.66" y2="1044.45" stroke="#000" stroke-width="2.5" />
<line x1="522.66" y1="616.3" x2="522.66" y2="625.55" stroke="#000" stroke-width="2.5" />
<line x1="552.04" y1="1053.7" x2="552.04" y2="1044.45" stroke="#000" stroke-width="2.5" />
<line x1="552.04" y1="616.3" x2="552.04" y2="625.55" stroke="#000" stroke-width="2.5" />
<line x1="581.43" y1="1053.7" x2="581.43" y2="1044.45" stroke="#000" stroke-width="2.5" />
<line x1="581.43" y1="616.3" x2="581.43" y2="625.55" stroke="#000" stroke-width="2.5" />
<line x1="640.21" y1="1053.7" x2="640.21" y2="1044.45" stroke="#000" stroke-width="2.5" />
<line x1="640.21" y1="616.3" x2="640.21" y2="625.55" stroke="#000" stroke-width="2.5" />
<line x1="669.6" y1="1053.7" x2="669.6" y2="1044.45" stroke="#000" stroke-width="2.5" />
<line x1="669.6" y1="616.3" x2="669.6" y2="625.55" stroke="#000" stroke-width="2.5" />
<line x1="698.98" y1="1053.7" x2="698.98" y2="1044.45" stroke="#000" stroke-width="2.5" />
<line x1="698.98" y1="616.3" x2="698.98" y2="625.55" stroke="#000" stroke-width="2.5" />
<line x1="137.1" y1="952.25" x2="154.05" y2="952.25" stroke="#000" stroke-width="2.5" />
<line x1="709.6" y1="952.25" x2="692.65" y2="952.25" stroke="#000" stroke-width="2.5" />
<line x1="137.1" y1="851.3" x2="154.05" y2="851.3" stroke="#000" stroke-width="2.5" />
<line x1="709.6" y1="851.3" x2="692.65" y2="851.3" stroke="#000" stroke-width="2.5" />
<line x1="137.1" y1="750.35" x2="154.05" y2="750.35" stroke="#000" stroke-width="2.5" />
<line x1="709.6" y1="750.35" x2="692.65" y2="750.35" stroke="#000" stroke-width="2.5" />
<line x1="137.1" y1="649.4" x2="154.05" y2="649.4" stroke="#000" stroke-width="2.5" />
<line x1="709.6" y1="649.4" x2="692.65" y2="649.4" stroke="#000" stroke-width="2.5" />
<line x1="137.1" y1="1033.01" x2="146.35" y2="1033.01" stroke="#000" stroke-width="2.5" />
<line x1="709.6" y1="1033.01" x2="700.35" y2="1033.01" stroke="#000" stroke-width="2.5" />
<line x1="137.1" y1="1012.82" x2="146.35" y2="1012.82" stroke="#000" stroke-width="2.5" />
<line x1="709.6" y1="1012.82" x2="700.35" y2="1012.82" stroke="#000" stroke-width="2.5" />
<line x1="137.1" y1="992.63" x2="146.35" y2="992.63" stroke="#000" stroke-width="2.5" />
<line x1="709.6" y1="992.63" x2="700.35" y2="992.63" stroke="#000" stroke-width="2.5" />
<line x1="137.1" y1="972.44" x2="146.35" y2="972.44" stroke="#000" stroke-width="2.5" />
<line x1="709.6" y1="972.44" x2="700.35" y2="972.44" stroke="#000" stroke-width="2.5" />
<line x1="137.1" y1="932.06" x2="146.35" y2="932.06" stroke="#000" stroke-width="2.5" />
<line x1="709.6" y1="932.06" x2="700.35" y2="932.06" stroke="#000" stroke-width="2.5" />
<line x1="137.1" y1="911.87" x2="146.35" y2="911.87" stroke="#000" stroke-width="2.5" />
<line x1="709.6" y1="911.87" x2="700.35" y2="911.87" stroke="#000" stroke-width="2.5" />
<line x1="137.1" y1="891.68" x2="146.35" y2="891.68" stroke="#000" stroke-width="2.5" />
<line x1="709.6" y1="891.68" x2="700.35" y2="891.68" stroke="#000" stroke-width="2.5" />
<line x1="137.1" y1="871.49" x2="146.35" y2="871.49" stroke="#000" stroke-width="2.5" />
<line x1="709.6" y1="871.49" x2="700.35" y2="871.49" stroke="#000" stroke-width="2.5" />
<line x1="137.1" y1="831.11" x2="146.35" y2="831.11" stroke="#000" stroke-width="2.5" />
<line x1="709.6" y1="831.11" x2="700.35" y2="831.11" stroke="#000" stroke-width="2.5" />
<line x1="137.1" y1="810.92" x2="146.35" y2="810.92" stroke="#000" stroke-width="2.5" />
<line x1="709.6" y1="810.92" x2="700.35" y2="810.92" stroke="#000" stroke-width="2.5" />
<line x1="137.1" y1="790.73" x2="146.35" y2="790.73" stroke="#000" stroke-width="2.5" />
<line x1="709.6" y1="790.73" x2="700.35" y2="790.73" stroke="#000" stroke-width="2.5" />
<line x1="137.1" y1="770.54" x2="146.35" y2="770.54" stroke="#000" stroke-width="2.5" />
<line x1="709.6" y1="770.54" x2="700.35" y2="770.54" stroke="#000" stroke-width="2.5" />
<line x1="137.1" y1="730.16" x2="146.35" y2="730.16" stroke="#000" stroke-width="2.5" />
<line x1="709.6" y1="730.16" x2="700.35" y2="730.16" stroke="#000" stroke-width="2.5" />
<line x1="137.1" y1="709.97" x2="146.35" y2="709.97" stroke="#000" stroke-width="2.5" />
<line x1="709.6" y1="709.97" x2="700.35" y2="709.97" stroke="#000" stroke-width="2.5" />
<line x1="137.1" y1="689.78" x2="146.35" y2="689.78" stroke="#000" stroke-width="2.5" />
<line x1="709.6" y1="689.78" x2="700.35" y2="689.78" stroke="#000" stroke-width="2.5" />
<line x1="137.1" y1="669.59" x2="146.35" y2="669.59" stroke="#000" stroke-width="2.5" />
<line x1="709.6" y1="669.59" x2="700.35" y2="669.59" stroke="#000" stroke-width="2.5" />
<line x1="137.1" y1="629.21" x2="146.35" y2="629.21" stroke="#000" stroke-width="2.5" />
<line x1="709.6" y1="629.21" x2="700.35" y2="629.21" stroke="#000" stroke-width="2.5" />
<path d="M179.8 1010.9 L189.59 986.9 L199.39 951.9 L209.18 923.5 L218.98 907.5 L228.78 871.5 L267.96 793.5 L316.94 724 L365.92 685 L414.9 664.5 L463.88 656 L512.86 652.5 L561.84 652.5 L610.82 652.5 L659.8 652.5" fill="none" stroke="#000" stroke-width="2.3" stroke-linejoin="round"/>
<rect x="173.5" y="1004.6" width="12.6" height="12.6" fill="#ff0000"/>
<rect x="183.29" y="980.6" width="12.6" height="12.6" fill="#ff0000"/>
<rect x="193.09" y="945.6" width="12.6" height="12.6" fill="#ff0000"/>
<rect x="202.88" y="917.2" width="12.6" height="12.6" fill="#ff0000"/>
<rect x="212.68" y="901.2" width="12.6" height="12.6" fill="#ff0000"/>
<rect x="222.48" y="865.2" width="12.6" height="12.6" fill="#ff0000"/>
<rect x="261.66" y="787.2" width="12.6" height="12.6" fill="#ff0000"/>
<rect x="310.64" y="717.7" width="12.6" height="12.6" fill="#ff0000"/>
<rect x="359.62" y="678.7" width="12.6" height="12.6" fill="#ff0000"/>
<rect x="408.6" y="658.2" width="12.6" height="12.6" fill="#ff0000"/>
<rect x="457.58" y="649.7" width="12.6" height="12.6" fill="#ff0000"/>
<rect x="506.56" y="646.2" width="12.6" height="12.6" fill="#ff0000"/>
<rect x="555.54" y="646.2" width="12.6" height="12.6" fill="#ff0000"/>
<rect x="604.52" y="646.2" width="12.6" height="12.6" fill="#ff0000"/>
<rect x="653.5" y="646.2" width="12.6" height="12.6" fill="#ff0000"/>
<text x="168.8" y="1098.1" font-family='"Liberation Sans", sans-serif' font-size="37.3" text-anchor="middle" font-weight="normal" font-style="normal" >0</text>
<path d="M299.72 1098.1 L296.44 1098.1 L296.44 1077.21 Q295.26 1078.34 293.34 1079.47 Q291.41 1080.6 289.88 1081.16 L289.88 1077.99 Q292.63 1076.7 294.69 1074.86 Q296.75 1073.02 297.61 1071.29 L299.72 1071.29Z" fill="#000"/>
<text x="306.57" y="1098.1" font-family='"Liberation Sans", sans-serif' font-size="37.3" text-anchor="start" font-weight="normal" font-style="normal" >50</text>
<text x="463.88" y="1098.1" font-family='"Liberation Sans", sans-serif' font-size="37.3" text-anchor="middle" font-weight="normal" font-style="normal" >300</text>
<text x="610.82" y="1098.1" font-family='"Liberation Sans", sans-serif' font-size="37.3" text-anchor="middle" font-weight="normal" font-style="normal" >450</text>
<text x="119.65" y="1062.6" font-family='"Liberation Sans", sans-serif' font-size="37" text-anchor="end" font-weight="normal" font-style="normal" >0</text>
<text x="119.65" y="961.65" font-family='"Liberation Sans", sans-serif' font-size="37" text-anchor="end" font-weight="normal" font-style="normal" >30</text>
<text x="119.65" y="860.7" font-family='"Liberation Sans", sans-serif' font-size="37" text-anchor="end" font-weight="normal" font-style="normal" >60</text>
<text x="119.65" y="759.75" font-family='"Liberation Sans", sans-serif' font-size="37" text-anchor="end" font-weight="normal" font-style="normal" >90</text>
<path d="M71.7 658.8 L68.45 658.8 L68.45 638.08 Q67.28 639.2 65.37 640.32 Q63.46 641.44 61.95 642 L61.95 638.85 Q64.67 637.57 66.71 635.75 Q68.76 633.92 69.61 632.21 L71.7 632.21Z" fill="#000"/>
<text x="78.49" y="658.8" font-family='"Liberation Sans", sans-serif' font-size="37" text-anchor="start" font-weight="normal" font-style="normal" >20</text>
<text x="191.24" y="1149.8" font-family='"Liberation Sans", sans-serif' font-size="44.41" text-anchor="start" font-weight="normal" font-style="normal" >Polymer thickness (nm)</text>
<text transform="translate(35.4 1034.89) rotate(-90)" font-family='"Liberation Sans", sans-serif' font-size="44.16" font-weight="normal">Sensitivity (nm/RIU)</text>
<text x="275.23" y="988.2" font-family='"Liberation Sans", sans-serif' font-size="44.37" text-anchor="start" font-weight="bold" font-style="normal" >(c)</text>
<line x1="393.5" y1="842.8" x2="456.8" y2="842.8" stroke="#000" stroke-width="3" />
<text transform="translate(397.13 816.5) scale(1.2143 1.0472)" font-family='"Liberation Serif", serif' font-size="50" font-weight="normal" font-style="italic">∂</text>
<text transform="translate(427.66 816.4) scale(1.0725 1.0752)" font-family='"Liberation Serif", serif' font-size="50" font-weight="normal" font-style="normal" stroke="#000" stroke-width="0.4" stroke-linejoin="round">λ</text>
<text transform="translate(394.33 895.2) scale(1.2143 1.0472)" font-family='"Liberation Serif", serif' font-size="50" font-weight="normal" font-style="italic">∂</text>
<text transform="translate(425.18 895.2) scale(1.2804 1.0851)" font-family='"Liberation Serif", serif' font-size="50" font-weight="normal" font-style="italic">n</text>
<text transform="translate(480.29 857.7) scale(1.2621 1.0696)" font-family='"Liberation Serif", serif' font-size="50" font-weight="normal" font-style="italic">v</text>
<text transform="translate(510.79 857.7) scale(1.1396 1.0553)" font-family='"Liberation Serif", serif' font-size="50" font-weight="normal" font-style="italic">s</text>
<path d="M562.83 827.14 L555.95 850.77 Q554.4 856.28 558.18 856.28 Q561.8 856.12 566.1 852.35" fill="none" stroke="#000" stroke-width="3.7" stroke-linecap="round" stroke-linejoin="round"/>
<path d="M550.1 833.92 L567.3 833.92" fill="none" stroke="#000" stroke-width="2.59" stroke-linecap="butt"/>
<text transform="translate(571.28 870.3) scale(0.7921 0.7165)" font-family='"Liberation Serif", serif' font-size="50" font-weight="normal" font-style="italic">poly</text>
<line x1="974" y1="1041.5" x2="974" y2="1024.55" stroke="#000" stroke-width="2.5" />
<line x1="974" y1="608.4" x2="974" y2="625.35" stroke="#000" stroke-width="2.5" />
<line x1="1115.38" y1="1041.5" x2="1115.38" y2="1024.55" stroke="#000" stroke-width="2.5" />
<line x1="1115.38" y1="608.4" x2="1115.38" y2="625.35" stroke="#000" stroke-width="2.5" />
<line x1="1256.75" y1="1041.5" x2="1256.75" y2="1024.55" stroke="#000" stroke-width="2.5" />
<line x1="1256.75" y1="608.4" x2="1256.75" y2="625.35" stroke="#000" stroke-width="2.5" />
<line x1="1398.12" y1="1041.5" x2="1398.12" y2="1024.55" stroke="#000" stroke-width="2.5" />
<line x1="1398.12" y1="608.4" x2="1398.12" y2="625.35" stroke="#000" stroke-width="2.5" />
<line x1="945.73" y1="1041.5" x2="945.73" y2="1032.25" stroke="#000" stroke-width="2.5" />
<line x1="945.73" y1="608.4" x2="945.73" y2="617.65" stroke="#000" stroke-width="2.5" />
<line x1="1002.27" y1="1041.5" x2="1002.27" y2="1032.25" stroke="#000" stroke-width="2.5" />
<line x1="1002.27" y1="608.4" x2="1002.27" y2="617.65" stroke="#000" stroke-width="2.5" />
<line x1="1030.55" y1="1041.5" x2="1030.55" y2="1032.25" stroke="#000" stroke-width="2.5" />
<line x1="1030.55" y1="608.4" x2="1030.55" y2="617.65" stroke="#000" stroke-width="2.5" />
<line x1="1058.83" y1="1041.5" x2="1058.83" y2="1032.25" stroke="#000" stroke-width="2.5" />
<line x1="1058.83" y1="608.4" x2="1058.83" y2="617.65" stroke="#000" stroke-width="2.5" />
<line x1="1087.1" y1="1041.5" x2="1087.1" y2="1032.25" stroke="#000" stroke-width="2.5" />
<line x1="1087.1" y1="608.4" x2="1087.1" y2="617.65" stroke="#000" stroke-width="2.5" />
<line x1="1143.65" y1="1041.5" x2="1143.65" y2="1032.25" stroke="#000" stroke-width="2.5" />
<line x1="1143.65" y1="608.4" x2="1143.65" y2="617.65" stroke="#000" stroke-width="2.5" />
<line x1="1171.92" y1="1041.5" x2="1171.92" y2="1032.25" stroke="#000" stroke-width="2.5" />
<line x1="1171.92" y1="608.4" x2="1171.92" y2="617.65" stroke="#000" stroke-width="2.5" />
<line x1="1200.2" y1="1041.5" x2="1200.2" y2="1032.25" stroke="#000" stroke-width="2.5" />
<line x1="1200.2" y1="608.4" x2="1200.2" y2="617.65" stroke="#000" stroke-width="2.5" />
<line x1="1228.47" y1="1041.5" x2="1228.47" y2="1032.25" stroke="#000" stroke-width="2.5" />
<line x1="1228.47" y1="608.4" x2="1228.47" y2="617.65" stroke="#000" stroke-width="2.5" />
<line x1="1285.03" y1="1041.5" x2="1285.03" y2="1032.25" stroke="#000" stroke-width="2.5" />
<line x1="1285.03" y1="608.4" x2="1285.03" y2="617.65" stroke="#000" stroke-width="2.5" />
<line x1="1313.3" y1="1041.5" x2="1313.3" y2="1032.25" stroke="#000" stroke-width="2.5" />
<line x1="1313.3" y1="608.4" x2="1313.3" y2="617.65" stroke="#000" stroke-width="2.5" />
<line x1="1341.58" y1="1041.5" x2="1341.58" y2="1032.25" stroke="#000" stroke-width="2.5" />
<line x1="1341.58" y1="608.4" x2="1341.58" y2="617.65" stroke="#000" stroke-width="2.5" />
<line x1="1369.85" y1="1041.5" x2="1369.85" y2="1032.25" stroke="#000" stroke-width="2.5" />
<line x1="1369.85" y1="608.4" x2="1369.85" y2="617.65" stroke="#000" stroke-width="2.5" />
<line x1="1426.4" y1="1041.5" x2="1426.4" y2="1032.25" stroke="#000" stroke-width="2.5" />
<line x1="1426.4" y1="608.4" x2="1426.4" y2="617.65" stroke="#000" stroke-width="2.5" />
<line x1="1454.67" y1="1041.5" x2="1454.67" y2="1032.25" stroke="#000" stroke-width="2.5" />
<line x1="1454.67" y1="608.4" x2="1454.67" y2="617.65" stroke="#000" stroke-width="2.5" />
<line x1="1482.95" y1="1041.5" x2="1482.95" y2="1032.25" stroke="#000" stroke-width="2.5" />
<line x1="1482.95" y1="608.4" x2="1482.95" y2="617.65" stroke="#000" stroke-width="2.5" />
<line x1="927.55" y1="1002.3" x2="944.5" y2="1002.3" stroke="#000" stroke-width="2.5" />
<line x1="1492.25" y1="1002.3" x2="1475.3" y2="1002.3" stroke="#000" stroke-width="2.5" />
<line x1="927.55" y1="923.45" x2="944.5" y2="923.45" stroke="#000" stroke-width="2.5" />
<line x1="1492.25" y1="923.45" x2="1475.3" y2="923.45" stroke="#000" stroke-width="2.5" />
<line x1="927.55" y1="844.6" x2="944.5" y2="844.6" stroke="#000" stroke-width="2.5" />
<line x1="1492.25" y1="844.6" x2="1475.3" y2="844.6" stroke="#000" stroke-width="2.5" />
<line x1="927.55" y1="765.75" x2="944.5" y2="765.75" stroke="#000" stroke-width="2.5" />
<line x1="1492.25" y1="765.75" x2="1475.3" y2="765.75" stroke="#000" stroke-width="2.5" />
<line x1="927.55" y1="686.9" x2="944.5" y2="686.9" stroke="#000" stroke-width="2.5" />
<line x1="1492.25" y1="686.9" x2="1475.3" y2="686.9" stroke="#000" stroke-width="2.5" />
<line x1="927.55" y1="1033.84" x2="936.8" y2="1033.84" stroke="#000" stroke-width="2.5" />
<line x1="1492.25" y1="1033.84" x2="1483" y2="1033.84" stroke="#000" stroke-width="2.5" />
<line x1="927.55" y1="1018.07" x2="936.8" y2="1018.07" stroke="#000" stroke-width="2.5" />
<line x1="1492.25" y1="1018.07" x2="1483" y2="1018.07" stroke="#000" stroke-width="2.5" />
<line x1="927.55" y1="986.53" x2="936.8" y2="986.53" stroke="#000" stroke-width="2.5" />
<line x1="1492.25" y1="986.53" x2="1483" y2="986.53" stroke="#000" stroke-width="2.5" />
<line x1="927.55" y1="970.76" x2="936.8" y2="970.76" stroke="#000" stroke-width="2.5" />
<line x1="1492.25" y1="970.76" x2="1483" y2="970.76" stroke="#000" stroke-width="2.5" />
<line x1="927.55" y1="954.99" x2="936.8" y2="954.99" stroke="#000" stroke-width="2.5" />
<line x1="1492.25" y1="954.99" x2="1483" y2="954.99" stroke="#000" stroke-width="2.5" />
<line x1="927.55" y1="939.22" x2="936.8" y2="939.22" stroke="#000" stroke-width="2.5" />
<line x1="1492.25" y1="939.22" x2="1483" y2="939.22" stroke="#000" stroke-width="2.5" />
<line x1="927.55" y1="907.68" x2="936.8" y2="907.68" stroke="#000" stroke-width="2.5" />
<line x1="1492.25" y1="907.68" x2="1483" y2="907.68" stroke="#000" stroke-width="2.5" />
<line x1="927.55" y1="891.91" x2="936.8" y2="891.91" stroke="#000" stroke-width="2.5" />
<line x1="1492.25" y1="891.91" x2="1483" y2="891.91" stroke="#000" stroke-width="2.5" />
<line x1="927.55" y1="876.14" x2="936.8" y2="876.14" stroke="#000" stroke-width="2.5" />
<line x1="1492.25" y1="876.14" x2="1483" y2="876.14" stroke="#000" stroke-width="2.5" />
<line x1="927.55" y1="860.37" x2="936.8" y2="860.37" stroke="#000" stroke-width="2.5" />
<line x1="1492.25" y1="860.37" x2="1483" y2="860.37" stroke="#000" stroke-width="2.5" />
<line x1="927.55" y1="828.83" x2="936.8" y2="828.83" stroke="#000" stroke-width="2.5" />
<line x1="1492.25" y1="828.83" x2="1483" y2="828.83" stroke="#000" stroke-width="2.5" />
<line x1="927.55" y1="813.06" x2="936.8" y2="813.06" stroke="#000" stroke-width="2.5" />
<line x1="1492.25" y1="813.06" x2="1483" y2="813.06" stroke="#000" stroke-width="2.5" />
<line x1="927.55" y1="797.29" x2="936.8" y2="797.29" stroke="#000" stroke-width="2.5" />
<line x1="1492.25" y1="797.29" x2="1483" y2="797.29" stroke="#000" stroke-width="2.5" />
<line x1="927.55" y1="781.52" x2="936.8" y2="781.52" stroke="#000" stroke-width="2.5" />
<line x1="1492.25" y1="781.52" x2="1483" y2="781.52" stroke="#000" stroke-width="2.5" />
<line x1="927.55" y1="749.98" x2="936.8" y2="749.98" stroke="#000" stroke-width="2.5" />
<line x1="1492.25" y1="749.98" x2="1483" y2="749.98" stroke="#000" stroke-width="2.5" />
<line x1="927.55" y1="734.21" x2="936.8" y2="734.21" stroke="#000" stroke-width="2.5" />
<line x1="1492.25" y1="734.21" x2="1483" y2="734.21" stroke="#000" stroke-width="2.5" />
<line x1="927.55" y1="718.44" x2="936.8" y2="718.44" stroke="#000" stroke-width="2.5" />
<line x1="1492.25" y1="718.44" x2="1483" y2="718.44" stroke="#000" stroke-width="2.5" />
<line x1="927.55" y1="702.67" x2="936.8" y2="702.67" stroke="#000" stroke-width="2.5" />
<line x1="1492.25" y1="702.67" x2="1483" y2="702.67" stroke="#000" stroke-width="2.5" />
<line x1="927.55" y1="671.13" x2="936.8" y2="671.13" stroke="#000" stroke-width="2.5" />
<line x1="1492.25" y1="671.13" x2="1483" y2="671.13" stroke="#000" stroke-width="2.5" />
<line x1="927.55" y1="655.36" x2="936.8" y2="655.36" stroke="#000" stroke-width="2.5" />
<line x1="1492.25" y1="655.36" x2="1483" y2="655.36" stroke="#000" stroke-width="2.5" />
<line x1="927.55" y1="639.59" x2="936.8" y2="639.59" stroke="#000" stroke-width="2.5" />
<line x1="1492.25" y1="639.59" x2="1483" y2="639.59" stroke="#000" stroke-width="2.5" />
<line x1="927.55" y1="623.82" x2="936.8" y2="623.82" stroke="#000" stroke-width="2.5" />
<line x1="1492.25" y1="623.82" x2="1483" y2="623.82" stroke="#000" stroke-width="2.5" />
<path d="M974 648.1 L983.42 718 L992.85 745.5 L1002.27 767 L1011.7 786.5 L1021.12 811.5 L1068.25 892 L1115.38 940 L1162.5 971.5 L1209.62 985 L1256.75 990.5 L1303.88 996.5 L1351 1002.3 L1398.12 1002.3 L1445.25 1002.3" fill="none" stroke="#000" stroke-width="2.2" stroke-linejoin="round"/>
<rect x="967.6" y="641.7" width="12.8" height="12.8" fill="#ff0000"/>
<rect x="977.02" y="711.6" width="12.8" height="12.8" fill="#ff0000"/>
<rect x="986.45" y="739.1" width="12.8" height="12.8" fill="#ff0000"/>
<rect x="995.88" y="760.6" width="12.8" height="12.8" fill="#ff0000"/>
<rect x="1005.3" y="780.1" width="12.8" height="12.8" fill="#ff0000"/>
<rect x="1014.73" y="805.1" width="12.8" height="12.8" fill="#ff0000"/>
<rect x="1061.85" y="885.6" width="12.8" height="12.8" fill="#ff0000"/>
<rect x="1108.97" y="933.6" width="12.8" height="12.8" fill="#ff0000"/>
<rect x="1156.1" y="965.1" width="12.8" height="12.8" fill="#ff0000"/>
<rect x="1203.22" y="978.6" width="12.8" height="12.8" fill="#ff0000"/>
<rect x="1250.35" y="984.1" width="12.8" height="12.8" fill="#ff0000"/>
<rect x="1297.47" y="990.1" width="12.8" height="12.8" fill="#ff0000"/>
<rect x="1344.6" y="995.9" width="12.8" height="12.8" fill="#ff0000"/>
<rect x="1391.72" y="995.9" width="12.8" height="12.8" fill="#ff0000"/>
<rect x="1438.85" y="995.9" width="12.8" height="12.8" fill="#ff0000"/>
<text x="974" y="1086.4" font-family='"Liberation Sans", sans-serif' font-size="37" text-anchor="middle" font-weight="normal" font-style="normal" >0</text>
<path d="M1098.29 1086.4 L1095.04 1086.4 L1095.04 1065.68 Q1093.87 1066.8 1091.96 1067.92 Q1090.05 1069.04 1088.54 1069.6 L1088.54 1066.45 Q1091.27 1065.17 1093.31 1063.35 Q1095.35 1061.52 1096.2 1059.81 L1098.29 1059.81Z" fill="#000"/>
<text x="1105.09" y="1086.4" font-family='"Liberation Sans", sans-serif' font-size="37" text-anchor="start" font-weight="normal" font-style="normal" >50</text>
<text x="1256.75" y="1086.4" font-family='"Liberation Sans", sans-serif' font-size="37" text-anchor="middle" font-weight="normal" font-style="normal" >300</text>
<text x="1398.12" y="1086.4" font-family='"Liberation Sans", sans-serif' font-size="37" text-anchor="middle" font-weight="normal" font-style="normal" >450</text>
<text x="908.5" y="1011.7" font-family='"Liberation Sans", sans-serif' font-size="36.6" text-anchor="end" font-weight="normal" font-style="normal" >0.0</text>
<text x="857.62" y="932.85" font-family='"Liberation Sans", sans-serif' font-size="36.6" text-anchor="start" font-weight="normal" font-style="normal" >0.</text>
<path d="M901.78 932.85 L898.56 932.85 L898.56 912.35 Q897.4 913.46 895.52 914.57 Q893.63 915.68 892.13 916.23 L892.13 913.12 Q894.83 911.85 896.85 910.05 Q898.87 908.24 899.71 906.54 L901.78 906.54Z" fill="#000"/>
<text x="908.5" y="854" font-family='"Liberation Sans", sans-serif' font-size="36.6" text-anchor="end" font-weight="normal" font-style="normal" >0.2</text>
<text x="908.5" y="775.15" font-family='"Liberation Sans", sans-serif' font-size="36.6" text-anchor="end" font-weight="normal" font-style="normal" >0.3</text>
<text x="908.5" y="696.3" font-family='"Liberation Sans", sans-serif' font-size="36.6" text-anchor="end" font-weight="normal" font-style="normal" >0.4</text>
<text x="908.5" y="617.45" font-family='"Liberation Sans", sans-serif' font-size="36.6" text-anchor="end" font-weight="normal" font-style="normal" >0.5</text>
<text x="976.62" y="1144.3" font-family='"Liberation Sans", sans-serif' font-size="44.55" text-anchor="start" font-weight="normal" font-style="normal" >Polymer thickness (nm)</text>
<text transform="translate(812.8 1019.2) rotate(-90)" font-family='"Liberation Sans", sans-serif' font-size="44.37" font-weight="normal">Sensitivity (nm/nm)</text>
<text x="984.16" y="974" font-family='"Liberation Sans", sans-serif' font-size="44.35" text-anchor="start" font-weight="bold" font-style="normal" >(d)</text>
<line x1="1175" y1="776.6" x2="1231.6" y2="776.6" stroke="#000" stroke-width="3" />
<text transform="translate(1176.83 750.2) scale(1.2095 1.0611)" font-family='"Liberation Serif", serif' font-size="50" font-weight="normal" font-style="italic">∂</text>
<text transform="translate(1207.05 750.1) scale(1.0769 1.0894)" font-family='"Liberation Serif", serif' font-size="50" font-weight="normal" font-style="normal" stroke="#000" stroke-width="0.4" stroke-linejoin="round">λ</text>
<text transform="translate(1178.67 829.3) scale(1.1857 1.0444)" font-family='"Liberation Serif", serif' font-size="50" font-weight="normal" font-style="italic">∂</text>
<path d="M1222.52 798.84 L1215.48 822.39 Q1213.9 827.89 1217.77 827.89 Q1221.47 827.73 1225.87 823.96" fill="none" stroke="#000" stroke-width="3.7" stroke-linecap="round" stroke-linejoin="round"/>
<path d="M1209.5 805.59 L1227.1 805.59" fill="none" stroke="#000" stroke-width="2.59" stroke-linecap="butt"/>
<text transform="translate(1256.49 791.8) scale(1.2621 1.0696)" font-family='"Liberation Serif", serif' font-size="50" font-weight="normal" font-style="italic">v</text>
<text transform="translate(1286.99 791.8) scale(1.1396 1.0553)" font-family='"Liberation Serif", serif' font-size="50" font-weight="normal" font-style="italic">s</text>
<path d="M1339.03 761.34 L1332.15 784.89 Q1330.6 790.39 1334.38 790.39 Q1338 790.23 1342.3 786.46" fill="none" stroke="#000" stroke-width="3.7" stroke-linecap="round" stroke-linejoin="round"/>
<path d="M1326.3 768.09 L1343.5 768.09" fill="none" stroke="#000" stroke-width="2.59" stroke-linecap="butt"/>
<text transform="translate(1347.48 804) scale(0.7921 0.7165)" font-family='"Liberation Serif", serif' font-size="50" font-weight="normal" font-style="italic">poly</text>
<rect x="140.4" y="2.6" width="561.9" height="451.9" fill="none" stroke="#000" stroke-width="4"/>
<rect x="921.65" y="2.55" width="569.85" height="444.05" fill="none" stroke="#000" stroke-width="3.7"/>
<rect x="137.1" y="616.3" width="572.5" height="437.4" fill="none" stroke="#000" stroke-width="2.5"/>
<rect x="927.55" y="608.4" width="564.7" height="433.1" fill="none" stroke="#000" stroke-width="2.5"/>
</svg>
</body></html>
